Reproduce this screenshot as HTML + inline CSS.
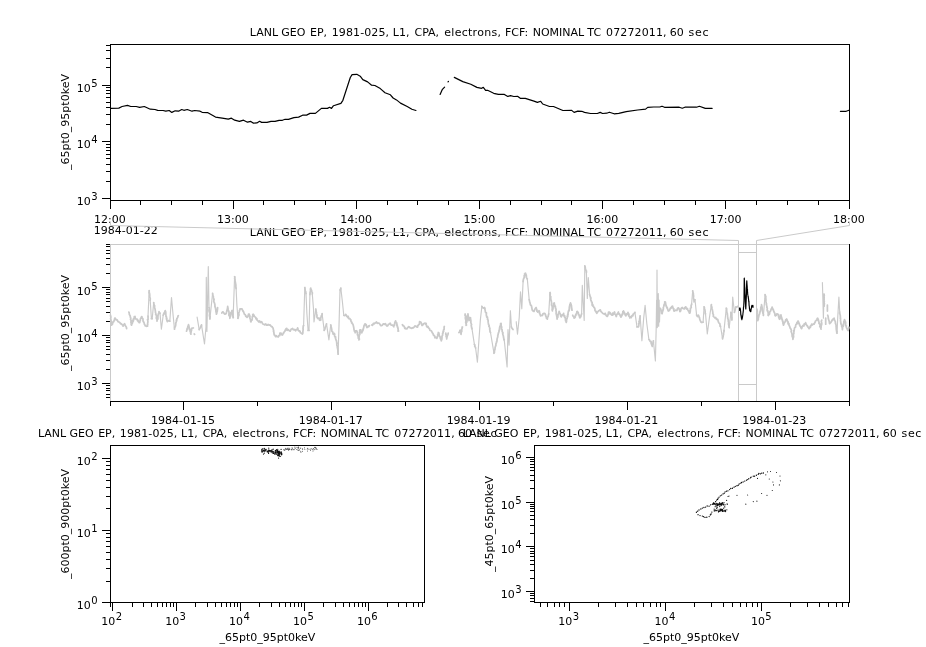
<!DOCTYPE html><html><head><meta charset="utf-8"><title>LANL GEO EP</title><style>html,body{margin:0;padding:0;background:#fff;overflow:hidden}svg{display:block}</style></head><body>
<svg width="926" height="647" viewBox="0 0 926 647">
<rect width="926" height="647" fill="#fff"/>
<g shape-rendering="crispEdges">
<rect x="110" y="44" width="740" height="1" fill="#000"/>
<rect x="110" y="200" width="740" height="1" fill="#000"/>
<rect x="110" y="44" width="1" height="157" fill="#000"/>
<rect x="849" y="44" width="1" height="157" fill="#000"/>
<rect x="102" y="198" width="8" height="1" fill="#000"/>
<rect x="106" y="181" width="4" height="1" fill="#000"/>
<rect x="106" y="171" width="4" height="1" fill="#000"/>
<rect x="106" y="164" width="4" height="1" fill="#000"/>
<rect x="106" y="158" width="4" height="1" fill="#000"/>
<rect x="106" y="154" width="4" height="1" fill="#000"/>
<rect x="106" y="150" width="4" height="1" fill="#000"/>
<rect x="106" y="147" width="4" height="1" fill="#000"/>
<rect x="106" y="144" width="4" height="1" fill="#000"/>
<rect x="102" y="141" width="8" height="1" fill="#000"/>
<rect x="106" y="124" width="4" height="1" fill="#000"/>
<rect x="106" y="114" width="4" height="1" fill="#000"/>
<rect x="106" y="107" width="4" height="1" fill="#000"/>
<rect x="106" y="102" width="4" height="1" fill="#000"/>
<rect x="106" y="97" width="4" height="1" fill="#000"/>
<rect x="106" y="93" width="4" height="1" fill="#000"/>
<rect x="106" y="90" width="4" height="1" fill="#000"/>
<rect x="106" y="87" width="4" height="1" fill="#000"/>
<rect x="102" y="85" width="8" height="1" fill="#000"/>
<rect x="106" y="67" width="4" height="1" fill="#000"/>
<rect x="106" y="58" width="4" height="1" fill="#000"/>
<rect x="106" y="50" width="4" height="1" fill="#000"/>
<rect x="106" y="45" width="4" height="1" fill="#000"/>
<rect x="110" y="201" width="1" height="8" fill="#000"/>
<rect x="140" y="201" width="1" height="4" fill="#000"/>
<rect x="171" y="201" width="1" height="4" fill="#000"/>
<rect x="202" y="201" width="1" height="4" fill="#000"/>
<rect x="233" y="201" width="1" height="8" fill="#000"/>
<rect x="263" y="201" width="1" height="4" fill="#000"/>
<rect x="294" y="201" width="1" height="4" fill="#000"/>
<rect x="325" y="201" width="1" height="4" fill="#000"/>
<rect x="356" y="201" width="1" height="8" fill="#000"/>
<rect x="387" y="201" width="1" height="4" fill="#000"/>
<rect x="417" y="201" width="1" height="4" fill="#000"/>
<rect x="448" y="201" width="1" height="4" fill="#000"/>
<rect x="479" y="201" width="1" height="8" fill="#000"/>
<rect x="510" y="201" width="1" height="4" fill="#000"/>
<rect x="541" y="201" width="1" height="4" fill="#000"/>
<rect x="571" y="201" width="1" height="4" fill="#000"/>
<rect x="602" y="201" width="1" height="8" fill="#000"/>
<rect x="633" y="201" width="1" height="4" fill="#000"/>
<rect x="664" y="201" width="1" height="4" fill="#000"/>
<rect x="695" y="201" width="1" height="4" fill="#000"/>
<rect x="725" y="201" width="1" height="8" fill="#000"/>
<rect x="756" y="201" width="1" height="4" fill="#000"/>
<rect x="787" y="201" width="1" height="4" fill="#000"/>
<rect x="818" y="201" width="1" height="4" fill="#000"/>
<rect x="849" y="201" width="1" height="8" fill="#000"/>
</g>
<path d="M110.7,108.4 L118.8,108.1 L122.1,106.5 L127.5,105.4 L130.8,106.5 L136.2,106.5 L139.6,107.3 L144.3,106.5 L150.3,109.2 L155.0,109.5 L157.7,110.4 L163.1,110.5 L165.8,111.2 L169.2,110.5 L171.8,112.4 L175.2,110.8 L178.6,111.2 L181.7,109.5 L183.9,110.3 L187.3,109.5 L192.0,111.2 L194.7,110.5 L200.1,111.2 L202.1,112.3 L207.5,112.6 L215.5,117.1 L222.2,118.1 L228.3,119.1 L231.4,118.2 L234.7,120.2 L239.4,121.4 L243.5,120.2 L247.5,122.2 L250.8,121.4 L253.5,123.2 L256.9,122.9 L259.6,121.3 L261.6,122.4 L267.0,122.4 L271.0,121.4 L275.0,121.4 L279.1,120.3 L282.4,120.3 L285.1,119.3 L288.5,119.3 L293.9,117.7 L298.6,117.1 L302.6,115.2 L306.6,115.1 L310.0,113.4 L315.4,113.4 L321.4,108.4 L327.5,108.4 L329.5,107.3 L331.5,108.4 L333.5,105.7 L340.9,103.4 L342.9,100.3 L350.3,77.5 L352.1,74.6 L356.8,74.3 L360.2,76.2 L362.8,79.6 L367.6,81.9 L371.6,85.2 L374.9,85.5 L380.3,88.6 L385.0,92.7 L390.4,94.8 L393.1,98.0 L396.5,99.9 L400.5,103.1 L407.2,106.5 L411.9,109.3 L415.9,110.5" fill="none" stroke="#000" stroke-width="1.2" stroke-linejoin="round" stroke-linecap="round" />
<path d="M440.1,94.4 L442.2,89.7 L444.6,87.2" fill="none" stroke="#000" stroke-width="1.2" stroke-linejoin="round" stroke-linecap="round" />
<path d="M448.0,81.9 L448.4,81.5" fill="none" stroke="#000" stroke-width="1.2" stroke-linejoin="round" stroke-linecap="round" />
<path d="M454.3,77.4 L462.8,81.6 L470.8,84.3 L476.9,87.4 L481.6,88.3 L483.3,87.4 L485.6,90.3 L487.6,90.3 L493.7,93.3 L498.4,94.4 L504.4,94.4 L507.8,96.4 L510.5,95.7 L513.8,96.5 L517.9,96.4 L520.6,98.4 L525.3,98.4 L534.0,101.1 L537.4,102.4 L540.7,101.3 L542.7,104.0 L549.5,106.5 L553.5,106.5 L562.9,110.5 L571.7,110.4 L574.1,112.4 L577.8,111.1 L581.8,111.3 L584.5,112.4 L590.5,113.5 L597.3,113.5 L600.2,112.4 L602.6,113.5 L606.7,113.2 L609.4,112.2 L614.1,113.8 L618.8,113.4 L626.2,111.7 L637.6,110.0 L645.6,109.1 L647.7,107.4 L653.7,107.0 L659.8,107.0 L662.0,106.2 L664.5,107.3 L679.2,107.2 L682.3,108.2 L684.9,107.2 L696.5,107.2 L699.4,106.3 L705.3,108.4 L712.1,108.4" fill="none" stroke="#000" stroke-width="1.2" stroke-linejoin="round" stroke-linecap="round" />
<path d="M840.4,111.3 L846.2,111.3 L849.0,110.2" fill="none" stroke="#000" stroke-width="1.2" stroke-linejoin="round" stroke-linecap="round" />
<text y="35.9" font-family="DejaVu Sans, Liberation Sans, sans-serif" font-size="11px" fill="#000" xml:space="preserve"><tspan x="249.77">LANL</tspan> <tspan x="281.33">GEO</tspan> <tspan x="310.02">EP,</tspan> <tspan x="331.69" letter-spacing="0.12">1981-025,</tspan> <tspan x="392.87">L1,</tspan> <tspan x="414.48">CPA,</tspan> <tspan x="444.29" letter-spacing="0.27">electrons,</tspan> <tspan x="504.92">FCF:</tspan> <tspan x="532.67">NOMINAL</tspan> <tspan x="587.33">TC</tspan> <tspan x="606.12" letter-spacing="0.12">07272011,</tspan> <tspan x="669.83">60</tspan> <tspan x="688.51" letter-spacing="0.7">sec</tspan></text>
<text x="109.8" y="222.5" font-family="DejaVu Sans, Liberation Sans, sans-serif" font-size="11px" text-anchor="middle" fill="#000" >12:00</text>
<text x="232.96666666666667" y="222.5" font-family="DejaVu Sans, Liberation Sans, sans-serif" font-size="11px" text-anchor="middle" fill="#000" >13:00</text>
<text x="356.1333333333333" y="222.5" font-family="DejaVu Sans, Liberation Sans, sans-serif" font-size="11px" text-anchor="middle" fill="#000" >14:00</text>
<text x="479.3" y="222.5" font-family="DejaVu Sans, Liberation Sans, sans-serif" font-size="11px" text-anchor="middle" fill="#000" >15:00</text>
<text x="602.4666666666667" y="222.5" font-family="DejaVu Sans, Liberation Sans, sans-serif" font-size="11px" text-anchor="middle" fill="#000" >16:00</text>
<text x="725.6333333333333" y="222.5" font-family="DejaVu Sans, Liberation Sans, sans-serif" font-size="11px" text-anchor="middle" fill="#000" >17:00</text>
<text x="848.8" y="222.5" font-family="DejaVu Sans, Liberation Sans, sans-serif" font-size="11px" text-anchor="middle" fill="#000" >18:00</text>
<text x="93.8" y="233.6" font-family="DejaVu Sans, Liberation Sans, sans-serif" font-size="11px" text-anchor="start" fill="#000" >1984-01-22</text>
<text y="91.5" font-family="DejaVu Sans, Liberation Sans, sans-serif" fill="#000"><tspan x="76.85" font-size="11px">10</tspan><tspan x="91.24" dy="-4.6" font-size="10px">5</tspan></text>
<text y="147.5" font-family="DejaVu Sans, Liberation Sans, sans-serif" fill="#000"><tspan x="76.85" font-size="11px">10</tspan><tspan x="91.24" dy="-4.6" font-size="10px">4</tspan></text>
<text y="204.5" font-family="DejaVu Sans, Liberation Sans, sans-serif" fill="#000"><tspan x="76.85" font-size="11px">10</tspan><tspan x="91.24" dy="-4.6" font-size="10px">3</tspan></text>
<text transform="translate(69,122) rotate(-90)" font-family="DejaVu Sans, Liberation Sans, sans-serif" font-size="11px" text-anchor="middle" fill="#000">_65pt0_95pt0keV</text>
<g shape-rendering="crispEdges">
<rect x="110" y="244" width="740" height="1" fill="#cacaca"/>
<rect x="110" y="244" width="1" height="158" fill="#cacaca"/>
<rect x="110" y="401" width="740" height="1" fill="#000"/>
<rect x="849" y="244" width="1" height="158" fill="#000"/>
<rect x="106" y="397" width="4" height="1" fill="#000"/>
<rect x="106" y="394" width="4" height="1" fill="#000"/>
<rect x="106" y="390" width="4" height="1" fill="#000"/>
<rect x="106" y="388" width="4" height="1" fill="#000"/>
<rect x="106" y="385" width="4" height="1" fill="#000"/>
<rect x="102" y="383" width="8" height="1" fill="#000"/>
<rect x="106" y="369" width="4" height="1" fill="#000"/>
<rect x="106" y="360" width="4" height="1" fill="#000"/>
<rect x="106" y="354" width="4" height="1" fill="#000"/>
<rect x="106" y="349" width="4" height="1" fill="#000"/>
<rect x="106" y="346" width="4" height="1" fill="#000"/>
<rect x="106" y="342" width="4" height="1" fill="#000"/>
<rect x="106" y="340" width="4" height="1" fill="#000"/>
<rect x="106" y="337" width="4" height="1" fill="#000"/>
<rect x="102" y="335" width="8" height="1" fill="#000"/>
<rect x="106" y="321" width="4" height="1" fill="#000"/>
<rect x="106" y="312" width="4" height="1" fill="#000"/>
<rect x="106" y="306" width="4" height="1" fill="#000"/>
<rect x="106" y="301" width="4" height="1" fill="#000"/>
<rect x="106" y="298" width="4" height="1" fill="#000"/>
<rect x="106" y="294" width="4" height="1" fill="#000"/>
<rect x="106" y="292" width="4" height="1" fill="#000"/>
<rect x="106" y="289" width="4" height="1" fill="#000"/>
<rect x="102" y="287" width="8" height="1" fill="#000"/>
<rect x="106" y="273" width="4" height="1" fill="#000"/>
<rect x="106" y="264" width="4" height="1" fill="#000"/>
<rect x="106" y="258" width="4" height="1" fill="#000"/>
<rect x="106" y="253" width="4" height="1" fill="#000"/>
<rect x="106" y="250" width="4" height="1" fill="#000"/>
<rect x="106" y="246" width="4" height="1" fill="#000"/>
<rect x="106" y="244" width="4" height="1" fill="#000"/>
<rect x="110" y="402" width="1" height="4" fill="#000"/>
<rect x="183" y="402" width="1" height="8" fill="#000"/>
<rect x="257" y="402" width="1" height="4" fill="#000"/>
<rect x="331" y="402" width="1" height="8" fill="#000"/>
<rect x="405" y="402" width="1" height="4" fill="#000"/>
<rect x="479" y="402" width="1" height="8" fill="#000"/>
<rect x="553" y="402" width="1" height="4" fill="#000"/>
<rect x="627" y="402" width="1" height="8" fill="#000"/>
<rect x="701" y="402" width="1" height="4" fill="#000"/>
<rect x="775" y="402" width="1" height="8" fill="#000"/>
<rect x="849" y="402" width="1" height="4" fill="#000"/>
</g>
<path d="M110.5,315.2L110.6,316.2L110.9,316.8L110.8,317.9L110.6,318.6L111.0,320.0L110.8,319.8L110.8,321.7L111.3,321.0L111.5,323.6L111.4,323.8L111.2,323.4L111.5,325.2L112.5,324.2L112.8,322.5L112.9,322.1L113.2,321.8L113.7,321.8L114.1,320.6L114.4,319.9L114.7,318.3L115.0,318.0L115.9,319.7L116.4,319.9L116.7,319.7L117.3,320.1L118.0,321.7L118.9,322.0L119.8,322.5L120.6,323.9L121.1,323.7L121.3,323.7L122.3,324.9L122.9,325.4L123.1,326.2L123.3,325.6L124.3,324.1L124.6,323.7L124.7,324.2L125.5,325.9L125.4,325.7L125.7,326.2L126.4,327.2L126.6,328.7M128.9,312.1L129.2,312.8L129.3,314.2L129.5,314.8L129.8,315.2L130.3,316.2L130.2,316.6L130.8,318.4L130.5,319.4L130.6,319.3L131.1,320.6L130.8,322.1L131.0,321.4L131.4,322.4L131.2,322.7L131.2,324.5L131.6,325.2L131.7,324.6L132.0,323.6L132.6,322.8L132.6,322.8L132.6,320.6L133.3,321.2L133.2,319.2L133.7,319.9L133.6,319.1L134.3,317.7L134.3,316.7L135.0,316.5L135.4,318.9L136.2,319.0L137.1,319.2L137.4,320.5L138.0,320.2L138.2,321.7L138.6,321.5L139.3,322.7L139.7,322.7L140.0,320.8L140.5,319.9L140.3,319.2L140.9,318.1L141.1,317.9L141.6,316.7L141.9,316.7L142.1,318.2L142.8,318.5L142.9,319.1L142.9,318.8L143.1,321.3L143.8,322.1L143.7,322.2L144.2,323.2L144.4,324.4L144.6,324.3L145.3,325.8L145.4,325.7L146.5,326.3L147.4,326.0L147.6,326.0L147.4,324.7L147.8,324.3L147.6,323.3L147.9,322.1L147.8,320.9L147.8,320.5L147.5,319.7L148.1,319.4L148.0,317.6L148.1,317.2L148.0,316.2M149.2,290.5L149.2,292.0L149.1,292.6L149.2,293.1L149.5,293.2L149.7,294.5L149.8,296.1L149.6,295.1L149.7,297.3L149.8,297.0L150.3,298.8L150.1,300.1L150.2,300.1M151.4,318.7L152.2,318.7M153.7,302.6L153.8,303.8L153.9,304.1L154.4,305.9L154.6,305.7L154.6,306.4L154.5,307.6L155.1,309.1L155.2,310.2L155.2,310.1L155.2,310.2L155.4,311.2L155.4,312.3L155.8,313.3L155.7,314.7L156.3,314.8L155.8,314.7L156.5,315.5L156.5,317.4L156.4,318.6L156.3,318.1L156.7,318.7L157.1,319.9L157.0,321.2L157.0,319.5L157.4,319.5L157.6,319.1L157.9,318.9L157.9,316.6L158.0,315.8L157.9,315.5L158.5,314.2L158.4,313.7L158.8,313.2L158.9,312.9L159.0,311.6L159.4,312.9L160.0,313.1M163.2,315.2L163.8,313.6L164.1,314.1L164.0,312.8L164.6,313.0L164.8,311.5L165.2,310.6L165.6,312.0L165.8,312.1L165.7,312.4L165.9,314.4L166.0,315.0L165.9,316.2L166.5,317.1L166.4,317.5L166.4,318.6L166.9,318.2L166.6,319.2L167.0,320.7L167.1,320.0L167.3,321.7L168.3,320.7L169.1,320.7L169.8,321.2M174.5,329.2L174.6,329.0L174.6,326.9L175.0,327.2L175.4,326.3L175.7,325.1L175.8,323.5L175.6,323.6L175.8,323.2L176.2,322.0L176.5,321.2L176.3,320.1L176.8,320.3L176.8,318.7L177.0,318.7L177.8,317.2L178.0,315.9L178.3,315.7M186.5,331.2L186.8,330.4L187.1,328.6L187.5,328.8L187.4,328.6L187.8,327.1L188.1,325.5L188.3,325.3L188.5,324.7L189.0,326.3L188.8,326.2L188.9,326.9L189.5,328.7L189.5,328.3L189.5,329.7L190.2,329.5L190.3,330.1L190.1,331.3L190.6,332.3L190.6,333.6L190.9,334.2L190.8,333.8L191.0,332.5L191.2,331.0L191.5,330.6L191.5,329.7L191.8,328.4L191.9,328.2L193.4,328.0M194.3,334.0L194.6,334.4M199.2,329.6L199.4,329.1L200.0,328.1L200.6,327.5L200.9,325.9L201.3,326.3L201.5,324.9M209.0,307.6L209.3,308.0L209.0,310.1L209.0,311.0L209.5,310.1L209.2,312.1L209.2,311.6L209.6,313.1L209.7,313.3L209.5,315.2L209.4,315.1L209.8,317.3L210.1,316.5L209.8,318.6L209.9,318.9M212.6,293.3L212.8,294.5L212.7,294.1L212.8,294.8L213.2,296.6L213.4,296.7L213.3,297.6L213.9,300.0L214.1,299.1L213.7,301.6L214.1,302.1L214.2,302.3L214.5,303.0L214.6,304.0L214.8,303.9L215.0,306.4L214.9,306.5L215.3,307.2L215.2,307.6L215.5,308.1L215.9,310.6L215.9,311.5L216.0,311.5L216.2,312.5L216.5,314.0L216.4,314.2L216.4,314.2L216.8,313.1L217.0,311.5L217.2,311.7L217.3,310.6L217.5,309.1L217.6,307.6L217.6,307.6M221.8,313.0L222.3,312.3L223.0,311.8L223.3,312.3L224.3,313.6L224.8,314.2L226.2,313.6L226.2,313.7L226.6,311.7L226.8,311.3L226.9,310.2L227.3,309.9L227.3,309.3L227.7,307.0L227.6,307.7L227.7,306.4L227.7,307.0L227.7,307.4L228.0,308.0L228.1,310.4L228.4,310.4L228.8,311.3L229.0,312.2L229.0,311.9L229.0,314.1L228.8,315.2L229.0,315.1L229.2,315.9L229.6,315.8L229.9,317.3L229.8,318.3L230.0,317.6L230.2,316.2L230.6,315.9L230.6,315.3L230.8,313.1L231.0,312.3L231.2,312.8L231.6,312.3L231.9,310.6L232.2,310.5L232.5,313.1L232.0,313.8L232.4,313.7L232.9,314.0L232.7,316.2L233.0,316.1L233.3,317.5L233.1,317.7M234.6,276.7L234.8,276.8L234.9,278.3L234.7,278.4L235.0,279.3L235.1,281.3L235.2,281.3L235.4,282.5L235.6,283.6L235.9,285.3L235.8,284.7L235.5,286.8L236.1,287.1L235.9,287.3L236.1,288.6M237.9,318.3L238.2,317.6L238.3,317.0L238.6,315.3L238.4,316.1L239.0,315.1L238.7,312.7L239.0,312.6L239.4,311.2L239.5,310.3L239.4,310.7L239.9,309.9L240.0,308.8L240.9,308.8L242.0,308.8L242.2,309.3L242.8,311.0L242.8,310.4L243.6,312.1L243.9,312.1L244.0,312.9L244.4,314.2L245.2,314.5L245.7,316.3L246.1,316.0L246.9,317.4L247.4,317.1L247.8,316.1L248.1,316.4L248.5,314.1L249.2,314.2L249.4,315.0L249.7,315.5L250.0,315.9L249.8,317.9L249.9,318.1L250.5,319.7L250.5,319.5L250.7,321.5L251.0,321.9L251.2,320.3L251.6,320.3L252.0,320.2L252.2,318.4L252.3,317.2L252.3,316.6L252.9,316.7L252.7,314.8L253.1,314.2L253.5,314.6L254.1,315.4L254.4,316.4L255.3,317.1L255.8,317.8L256.0,318.9L256.9,318.7L256.9,319.8L257.7,320.6L258.5,321.5L258.7,321.9L259.7,321.0L260.3,322.5L261.1,321.9L261.6,321.7L262.7,323.9L263.0,324.0L264.0,324.3L264.6,324.9L265.8,324.0L266.4,325.1L267.4,325.2L268.2,324.4L269.4,325.2L270.0,324.9L270.6,325.6L271.3,326.5L272.0,326.5L272.6,327.6L273.0,327.9L273.3,329.3L273.5,330.3L273.7,330.5L273.5,331.5L273.8,331.7L273.8,331.9L274.1,334.4L274.0,333.5L274.2,335.0L274.8,335.2L275.7,336.7L276.4,335.7L277.2,336.7L278.3,336.8L278.9,335.4L279.0,335.3L279.8,335.5L279.9,333.1L280.7,333.2L281.1,333.2L281.7,334.8L282.5,335.0L283.0,333.7L283.1,333.1L283.5,333.3L284.0,332.2L284.7,331.3L284.8,331.4L285.5,329.6L285.7,330.1L286.1,328.5L286.8,328.4L287.2,330.3L288.4,329.6L288.9,330.4L289.6,330.8L290.2,331.2L291.2,329.1L291.6,329.0L292.6,328.5L293.3,329.7L294.2,329.9L294.6,329.5L295.6,330.8L296.0,329.6L296.8,329.4L297.2,329.6L297.6,327.9L297.9,328.7L298.2,329.8L298.5,330.6L299.4,331.3L299.3,330.9L300.1,331.3L300.4,332.8L301.4,333.3L302.4,334.0L302.8,333.3L302.9,331.9L302.9,331.3L303.1,329.8L303.2,329.2L303.1,329.0L303.0,328.8L303.2,326.9L303.2,326.1L303.6,325.6M304.8,287.5L305.0,288.8L305.1,289.6L305.1,289.9L305.5,291.9L305.9,292.1L305.5,292.4L306.0,293.5M308.1,330.4L309.0,330.4M309.9,294.7L310.1,293.3L310.1,293.0L309.9,293.2L310.5,290.8L310.5,290.2L310.4,289.8L310.5,288.6L310.7,288.1L310.9,289.3L311.0,289.2L311.5,290.3L311.9,291.7L312.0,292.0L312.3,292.4L312.3,294.1M315.8,309.0L315.7,309.0L316.1,311.1L316.0,311.3L316.5,312.5L316.2,312.6L316.3,313.2L316.6,314.0L317.0,315.5L316.9,316.8L317.0,317.3L317.8,318.5L318.2,318.2L318.9,318.1L319.5,320.1L320.2,320.3L320.7,320.1L320.8,318.9L320.6,317.5L321.1,317.3L321.2,315.9L321.6,315.9L322.1,314.7L322.1,313.7M324.2,330.4L324.3,330.1L325.0,328.8L325.0,327.9L325.1,327.5L325.9,326.3L326.1,326.1L326.0,325.5L326.5,323.8M330.7,325.0L331.0,325.2L330.9,326.1L331.4,327.8L331.5,329.1L331.7,329.0L331.8,330.9L332.0,331.5L332.5,331.7L332.7,331.9L333.1,334.2L333.1,334.0L334.3,333.4L334.7,334.4L334.5,335.7L334.8,336.6L335.0,336.8L335.6,336.8L335.6,337.4L335.5,338.4L336.3,340.8L336.4,340.3L336.6,342.0L336.7,342.3L336.7,343.3L337.1,343.0L336.8,344.8L336.9,345.5L337.2,345.9L337.3,346.9L337.4,347.9L337.6,348.2L337.7,349.2L338.0,351.0L337.8,351.5L338.0,352.9L338.2,353.9L338.1,354.2M340.0,289.9L340.4,290.0L340.8,288.1M343.8,315.5L344.9,315.6L345.6,314.3L346.1,314.8L346.7,316.3L347.2,316.2L347.7,317.5L348.2,316.4L348.9,318.7L349.5,318.7L350.0,318.7L350.4,319.7L350.8,319.6L350.9,321.1L351.5,321.7L351.6,323.0L352.2,322.9L352.5,323.9L352.8,324.0L353.3,325.6L353.7,327.3L353.8,327.9L353.9,328.6L353.9,329.3L354.3,330.4L354.3,331.0L354.5,331.3L355.2,331.0L355.1,332.8L355.5,331.8L356.2,330.7L356.9,331.0L357.3,332.4L357.2,332.3L357.5,332.5L357.4,335.0L357.7,335.0L358.3,336.8L358.2,336.1L358.3,338.3L358.9,337.7L359.0,338.8L359.0,339.9L359.1,338.4L359.4,339.2L359.0,337.6L359.1,337.3L359.1,334.9L359.6,334.5L359.8,334.7L359.7,332.4L359.8,333.2L359.7,330.6L359.7,330.3L359.9,329.8L360.5,329.9L360.6,330.8L361.3,332.6L361.7,332.8L361.9,332.3L362.5,331.3L362.4,329.9L363.2,329.9L363.1,329.0L363.3,328.9L363.8,327.1L364.1,325.3L364.5,325.0L364.6,325.2L365.0,323.8L365.3,324.1L366.2,324.7L366.4,326.1L366.9,327.5L367.6,327.4L368.5,325.9L368.8,326.7L369.4,325.6M371.8,325.0L372.5,325.4L373.4,323.4L374.2,323.8L374.8,323.3L375.9,322.5L376.5,322.0L377.2,323.3L378.0,323.2L378.9,323.1L379.5,323.7L380.1,324.5L380.7,325.6L381.4,325.7L382.4,325.3L382.8,324.2L383.7,323.8L384.4,324.3L385.4,323.6L386.3,325.3L387.1,326.0L387.9,325.6L388.3,324.3L388.8,324.4L389.6,323.7L390.2,323.2L390.7,324.4L391.1,325.2L392.0,325.1L392.8,325.1L393.0,325.8L393.8,326.8L393.8,325.6L394.4,325.2L394.4,324.4L394.6,324.1L394.9,322.1L395.1,322.1L395.6,320.9L396.0,322.3L395.8,322.3L396.2,322.7L396.8,323.1L396.7,325.3L397.3,324.9L397.2,326.8L397.2,326.6L397.9,327.2L397.8,328.3L398.1,328.6L398.1,331.2L398.6,331.0M402.4,324.7L403.2,325.9L403.4,325.6L404.2,326.3L404.8,328.4L405.3,327.9L406.0,328.9L407.2,328.7L407.5,327.8L408.7,326.7L409.5,327.1L410.2,327.9L411.3,328.1L411.9,328.3L412.9,327.6L413.3,327.8L414.1,327.1L414.9,325.9L415.6,326.0L416.5,326.8L417.6,327.1L417.7,325.8L418.1,325.5L418.5,324.7L419.3,324.4L419.5,322.7L419.6,321.7L420.0,321.8L420.6,322.2L420.9,322.2L421.4,323.4L422.0,325.4L422.6,325.3L423.3,324.3L423.7,323.5L424.7,323.3L425.0,323.0L425.6,324.2L426.2,323.5L426.3,324.9L426.7,326.6L427.3,327.1L427.9,326.4L428.3,327.4L428.6,328.0L429.4,328.5L429.8,330.1L430.3,330.5L431.0,330.6L431.7,331.4L432.3,332.8L432.7,333.1L432.9,333.3L433.4,335.1L433.8,335.2L434.5,335.7L434.6,336.7L435.1,337.8L435.8,337.2L436.9,338.4L436.8,337.8L437.3,337.3L437.8,335.5L437.8,335.9L437.7,334.6L438.2,334.3L438.3,332.5L438.8,332.7L438.9,333.2L439.1,334.5L439.2,335.3L439.6,336.3L439.9,336.3L440.2,337.7L440.4,338.9L440.7,338.5L441.0,339.9L441.4,340.8L441.4,340.2L441.8,339.3L442.0,337.5L442.0,337.4L441.9,336.6L442.1,336.0L442.6,335.2L442.6,334.0L442.6,333.3L443.2,333.0L443.0,332.4L443.1,331.2L443.6,331.4L443.6,329.8L444.1,329.4L444.1,328.3L444.1,327.1L444.3,326.5M445.8,333.1L445.8,334.6L446.3,334.5L446.4,334.7L446.1,336.5L446.3,337.0L446.9,337.5L446.7,339.0L446.7,337.6L447.2,336.8L447.0,336.6L447.5,335.1L447.8,335.1L448.0,334.2L448.2,333.1M458.9,332.5L459.3,332.4L460.0,330.6L460.1,330.1L460.2,331.7L460.3,332.2L460.8,333.0L461.1,334.1L461.0,334.3L461.0,333.7L461.3,332.8L461.4,331.5L461.8,331.2L461.7,329.8L461.9,328.9L462.2,328.0L462.1,327.0L462.5,327.1M465.2,314.0L465.0,315.2L465.1,315.5L465.6,316.4L465.3,318.0L465.7,317.1L465.4,318.9L465.8,319.4L465.8,320.0L465.9,320.9L465.7,322.6L466.1,323.5L466.0,323.5L466.2,324.7L466.1,325.3L466.4,325.1L466.1,323.4L466.6,322.3L466.4,321.1L466.8,322.1L467.2,319.7L467.1,319.5L467.2,318.6L467.5,319.0L467.1,317.7L467.3,315.5L467.5,316.1L468.1,314.0L467.9,314.0L467.9,313.9L468.2,315.6L468.2,316.1L468.6,318.0L468.5,317.9L468.8,319.5L469.2,319.6L469.0,320.6L469.4,319.9L469.8,318.4L469.7,317.6L470.2,317.6L470.6,317.9L470.5,318.5L470.5,319.1L470.8,320.1L470.9,321.2L470.8,322.4L471.0,322.8L471.0,323.2L471.6,324.5L471.2,325.0L471.6,327.5L471.6,328.0L471.9,327.9L472.0,328.9M474.4,344.4L474.9,345.1L474.7,346.3L475.4,347.3L475.6,348.0M481.9,306.3L482.6,307.6L483.9,308.1L484.5,307.5L484.7,309.0L485.0,308.4L484.8,309.2L485.1,309.8L485.4,312.0L485.6,312.3L485.6,312.5L486.4,312.9L486.3,315.3L486.7,315.9L486.6,316.8L487.1,317.6L487.4,317.0L487.6,318.4L487.5,319.4L487.8,319.7L488.1,320.1L488.1,321.3L488.2,322.4L488.5,324.1L488.5,324.6L488.7,324.7L489.2,325.6L488.9,326.4L489.5,327.0L489.7,328.5L489.9,328.6L489.7,329.3L490.0,330.7L490.0,331.7L490.5,332.5M494.0,353.3L494.1,352.1L494.4,352.6L494.4,351.6L494.6,350.6L494.6,350.2L495.0,349.4L495.1,347.5L495.5,346.2L495.5,346.4L496.0,344.9L495.8,344.1L496.4,342.9L496.4,342.6L496.6,341.4L496.7,342.0L497.0,340.7L497.0,339.6L497.2,338.9L497.1,338.7L497.7,337.1L497.8,336.2L497.8,335.0L498.1,334.9L498.3,333.0L498.5,333.1L498.7,332.5L499.1,330.9L499.0,331.7L499.3,329.6L499.5,330.1L499.5,329.1L499.5,328.5L499.9,326.2L500.3,326.2L500.5,325.8L500.6,324.3L500.6,323.5L501.1,323.4L501.2,325.5L501.0,326.5L501.3,326.8L501.7,326.9L501.5,328.6L501.6,329.2L502.2,329.9L502.1,331.3L502.6,332.1L502.6,333.2L502.9,332.5L502.9,333.2L502.8,334.5L503.5,336.2L503.3,335.7L503.6,337.9L503.9,338.8L503.8,339.8L504.2,339.6M511.4,326.9L511.8,328.0L512.7,329.1L513.0,329.5M523.1,281.5L523.1,281.0L523.5,278.8L523.7,278.6L524.1,277.7L524.3,277.6L524.2,275.7L524.8,275.5L524.6,273.9L525.3,274.1L525.3,273.0L525.5,273.2L526.2,275.1L526.3,275.2L526.3,276.2L526.5,277.5L527.0,278.7L527.3,278.9M529.2,299.7L529.4,300.4L529.7,302.2L529.9,302.5L530.1,303.1L530.3,304.4L530.6,305.2L531.1,305.2L531.5,305.9L531.6,307.1L531.7,306.8L531.9,308.1L532.2,310.2L532.5,310.1L533.1,311.1L534.0,311.4L534.5,310.1L534.8,309.1L535.5,308.6L535.6,308.0L536.1,307.5L536.6,309.1L536.8,309.4L536.8,311.0L537.1,310.8L537.7,312.0L538.3,311.8L539.0,310.7L539.4,311.3L539.7,313.3L539.5,313.6L540.0,313.9L540.2,314.7L540.5,315.9L541.4,315.4L542.4,315.5L542.9,313.9L544.1,313.4L544.8,313.3L545.4,314.4L545.7,316.0L545.7,315.7L546.2,316.9L546.5,318.4L546.9,318.0L547.4,319.1L547.4,318.0L548.0,316.5L547.9,316.8L548.3,316.1L548.3,315.4L548.7,313.9M550.0,292.5L550.3,293.9L550.0,294.1L550.1,295.8L550.8,296.7L550.4,296.5L550.8,297.7L550.7,299.0L550.9,299.3L550.9,300.3L551.3,301.0L551.2,301.0L551.5,302.2L551.7,302.9L551.6,303.3L551.5,304.9L551.8,305.8L552.1,305.9L552.2,306.8L552.3,308.3L552.1,309.3L552.4,310.8L552.3,310.7L552.4,308.9L552.5,309.8L553.0,308.8L552.9,307.6L553.0,306.0L553.4,307.0L553.8,305.9L553.6,304.3L553.8,303.2L554.3,302.9L554.3,304.6L554.6,304.6L555.0,306.2L555.4,306.4L555.4,307.9L555.5,307.6L555.8,308.8L556.1,309.2L555.9,310.4L556.1,311.1L556.2,312.1L556.1,313.8L556.2,314.0L556.6,314.6L556.5,314.9L556.7,316.2L556.9,316.8L557.1,318.2L557.1,319.1L557.0,318.1L557.8,316.4L557.8,317.5L557.9,315.9L558.1,314.4L558.5,314.1L558.5,313.1L558.9,312.8L559.1,311.4L559.1,311.4L559.6,312.6L560.2,313.8L560.6,314.6L560.6,316.0L561.0,316.5L561.3,316.8L562.2,314.9L562.5,315.2L563.3,314.2L563.6,313.3L563.6,314.7L563.8,315.2L564.3,316.6L564.6,315.7L565.0,317.9L565.1,317.3L565.4,318.9L565.6,320.9L566.0,319.9L566.1,321.5L566.2,322.4L566.5,321.4L566.5,320.7L566.5,319.7L567.0,318.4L566.8,319.1L567.3,317.8L567.2,316.1L567.5,317.0L567.8,316.2L567.7,314.4L568.1,314.4L568.0,313.7L568.4,311.2L568.6,311.4L568.7,310.3L569.1,310.6L569.2,309.2L569.3,308.6L569.3,307.6L569.5,306.5L569.8,305.1L569.9,304.3L570.4,303.8L570.5,302.9L570.6,303.8L571.1,304.2L571.1,305.3L571.5,305.8L571.5,306.4L571.4,308.2L571.8,308.0L571.7,309.9L572.1,310.1M572.7,315.2L573.1,316.3L573.7,316.7L574.2,318.1L574.7,317.8L575.3,316.9L575.3,315.7L575.8,314.6L575.9,315.3L576.0,314.2L576.7,313.1L576.9,311.5L577.3,311.4L577.9,312.7L578.1,312.2L578.4,313.2L578.4,314.7L579.0,314.6L579.4,316.4L579.8,317.8L579.9,317.8L580.4,316.7L580.9,316.7L580.8,316.2L581.4,314.2L581.6,313.9M584.8,265.9L584.8,265.8L585.2,267.0L585.3,267.8L585.4,269.1L585.7,269.5L585.9,270.8L586.4,270.9L586.4,272.4M589.6,294.5L590.0,296.0L590.1,296.1L590.4,296.9L590.6,298.5L590.9,297.9L590.7,300.1L591.1,300.5L591.2,300.6L591.5,302.0L592.1,302.3L592.1,302.8L592.1,304.8L592.2,305.5L592.8,304.6L592.9,306.2L593.5,306.1L593.7,306.9L594.4,307.9L594.7,308.2L594.9,308.9L595.0,310.6L595.9,311.5L596.2,312.4L596.4,311.7L596.8,313.3L597.4,312.0L598.0,311.7L598.5,310.8L599.2,310.6L599.7,310.1L600.3,309.9L600.9,311.5L601.7,312.1L601.8,312.3L602.6,313.3L603.4,313.7L604.6,314.3L605.2,313.3L605.9,315.0L606.4,315.8L606.3,315.7L607.1,316.5L607.5,316.1L607.8,315.2L608.4,313.4L608.4,314.4L608.5,312.0L609.1,312.0L609.9,313.6L609.9,312.3L611.0,314.3L611.4,314.7L611.9,315.2L612.6,315.2L612.6,313.1L613.6,314.2L614.2,312.5L614.5,312.0L614.7,312.4L614.8,314.0L615.2,314.4L615.6,314.7L616.0,315.7L616.2,316.5L616.4,316.5L616.7,314.3L617.2,314.2L617.8,313.2L617.9,313.1L618.4,312.0L618.6,312.8L619.0,314.2L619.3,313.7L619.8,314.6L620.4,316.1L620.8,316.5L621.0,317.2L621.1,316.9L621.5,315.1L621.9,315.8L622.2,313.8L622.8,314.2L622.8,311.7L623.4,312.3L623.5,310.9L623.8,312.3L624.2,312.1L624.8,313.8L625.1,314.8L625.2,315.0L625.9,315.8L626.2,314.2L627.0,313.7L627.0,314.5L627.9,313.9L628.0,312.3L628.2,314.0L628.3,314.3L629.0,314.1L628.8,315.9L629.5,316.8L629.8,317.0L629.8,317.9L630.5,316.6L631.2,317.7L631.9,315.7L632.9,315.8L633.2,314.2L633.6,313.8L633.9,313.8L634.5,313.1L634.9,312.3M637.0,326.9L638.4,326.9L638.7,326.2L638.9,324.5L638.6,323.7L638.8,324.2L639.3,322.9L638.9,321.8L639.3,320.9L639.5,321.5L639.5,320.0L639.8,318.9L639.6,319.1L640.1,316.4L640.1,316.4L640.1,315.8M648.9,339.5L649.3,339.5L650.0,341.3L650.9,341.5L651.0,341.4L651.2,343.7L651.6,344.3L651.8,344.1L651.8,345.2L652.3,346.4L652.2,345.1L652.7,344.5L652.8,344.2L652.8,342.9L653.3,342.6L653.2,341.7L653.4,340.8M660.0,308.2L660.3,308.7L660.8,309.2L661.2,311.3L661.4,310.7L661.5,313.1L661.7,312.3L662.1,313.7L662.4,312.4L662.5,311.4L662.9,310.9L662.6,310.9L662.9,309.9L663.2,309.8L663.4,308.0L663.3,307.4L663.6,306.8L664.0,305.8L663.9,305.0L664.3,304.5L664.8,303.0L664.7,301.9L664.9,301.9L665.4,302.1L665.7,304.0L665.6,305.0L666.0,304.8L666.3,306.5L666.6,306.4L666.8,307.8L667.2,307.6L667.3,308.1L667.9,310.0L668.3,311.0L668.3,310.9L669.0,310.8L669.6,310.1L670.3,308.2L670.9,307.8L671.1,308.3L671.6,306.8L672.5,306.1L672.8,307.5L673.3,308.5L673.8,308.8L673.6,309.6L674.0,311.1L674.6,310.9L675.5,310.1L675.8,310.4L676.9,310.5L677.5,308.4L678.2,307.8L678.8,308.2L679.4,309.6L679.7,310.6L679.9,311.6L680.2,311.6L680.7,310.8L680.9,309.7L681.1,308.5L682.0,307.8L682.2,307.5L683.0,308.5L683.7,308.5L684.3,308.9L684.7,307.7L685.0,307.8L685.7,306.8L686.3,308.4L686.5,309.0L687.3,308.4L687.8,309.8L688.3,310.8L688.4,310.5L689.0,311.6L689.2,313.0L689.9,313.0L690.1,312.1L690.4,310.9L690.2,310.7L690.4,309.4L690.4,308.0L690.7,308.1L691.3,307.6L691.1,306.3L691.1,305.6L691.7,304.1L691.6,304.0M692.7,290.8L692.8,292.0L693.1,292.6L693.1,294.2L693.4,293.7L693.3,296.1L693.4,295.3L693.6,295.9L693.4,297.7L693.5,298.9L693.9,299.0L694.0,300.5L694.1,301.0L694.1,301.9L694.5,300.1L695.0,299.8M696.6,315.1L697.4,316.5L698.4,315.1L698.9,316.5L698.9,316.8L699.6,318.0L699.6,318.8L700.1,320.2L700.3,320.8L700.8,321.5L701.0,322.1L701.8,322.5L703.1,322.1M704.1,306.8L704.1,306.8L704.4,307.6L704.4,309.2L704.8,309.5L705.2,311.8L705.1,312.2L705.2,313.8L705.5,313.7M711.4,304.7L711.3,305.2L711.5,307.1L711.9,307.0L711.9,308.8L712.0,309.5L712.4,309.7L712.4,310.5L712.6,311.1L712.8,312.1L712.8,313.7L713.0,313.9L713.4,314.7L713.3,316.5L713.5,316.5L714.5,317.5L714.8,317.8L715.7,317.5L716.4,319.3L717.1,319.2L717.7,319.3L718.0,320.4L718.2,321.4L718.7,322.6L718.8,322.8L719.0,323.0L719.7,323.4L719.9,324.1L720.1,326.4L720.5,326.2M722.6,338.8L722.6,338.8L722.6,337.3L723.2,337.0L723.1,335.6L723.4,335.1L723.6,333.9L723.4,333.3L723.8,332.2L724.2,330.5L724.0,330.4M726.3,308.2L726.6,308.6L726.7,310.7L726.6,310.7L726.8,311.4L726.7,312.4L727.3,313.3L727.1,314.4L727.3,313.8L727.5,315.3L727.6,317.1L727.8,317.8L727.8,318.2L727.7,318.1L728.1,319.3L728.3,320.5L728.5,320.7L728.3,321.5L728.6,321.7L728.6,323.8L728.5,323.9L729.1,326.0L728.8,325.3L728.9,325.9L729.2,327.6M730.9,312.3L731.2,313.6L731.0,314.0L731.4,313.9L731.5,316.4L731.3,317.0L731.7,317.1L731.9,317.7L731.8,318.8L731.9,320.0M734.4,312.3L734.6,312.1L734.8,310.9L735.3,309.4L735.0,309.4L735.2,309.3L735.5,307.5L735.8,306.8L736.6,307.2L737.6,306.6L738.2,306.0M756.9,309.0L756.8,309.5L757.2,310.1L757.3,312.2L757.0,312.0L757.1,313.6L757.0,314.4L757.1,315.5L757.4,315.8L757.2,315.5L757.5,318.3L757.7,318.8L757.4,318.1L757.4,320.2L757.8,320.6L757.8,319.4L758.3,319.4L758.3,318.2L758.5,317.6L758.8,316.4L758.9,315.5L759.1,314.2L759.4,314.6L759.7,313.6L759.7,312.0L760.2,311.9L760.2,310.8L760.6,310.9L760.6,309.9L760.8,308.8L760.8,307.8L761.0,307.1L761.2,306.5L761.5,306.4L761.5,304.8L761.5,304.7L761.7,305.5L762.1,307.5L762.0,307.5L762.5,309.6L762.5,310.1L762.7,310.5L762.6,311.5L763.0,313.2L763.2,313.7L762.9,313.3L763.5,314.8L763.4,315.5M765.1,294.6L765.2,295.0L765.5,296.3L765.7,296.2L765.9,296.9L765.5,298.5L765.9,298.8L765.9,301.2L766.0,301.7L766.2,302.2L766.1,302.8L766.6,304.0L766.3,304.4L766.6,305.3L766.8,305.8L767.0,307.3L766.8,307.3L767.3,308.1L767.1,310.1L767.5,311.3L767.7,310.5L767.9,311.6L768.2,313.4L768.3,312.9L768.1,315.2L768.5,315.5L768.6,314.1L768.9,313.3L769.5,314.1L769.7,312.0L770.4,311.1L770.6,311.1L771.1,309.2L771.2,309.2L771.7,308.1L772.0,307.2L772.2,307.1L772.5,308.8L772.6,308.3L773.4,309.8L773.1,309.7L773.5,310.7L774.2,312.3L774.6,313.0L774.7,313.3L775.0,314.3L774.9,315.1L775.5,315.9L776.2,315.4L776.8,313.8L777.8,314.1L778.4,314.7L778.3,315.1L778.8,317.5L778.8,317.5L779.3,318.9L779.6,319.2L779.9,317.8L780.0,318.0L780.2,317.4L780.4,315.2L781.0,315.0L781.2,316.5L781.5,317.1L781.7,317.8L781.5,318.8L781.8,318.2L781.9,318.8L782.6,320.3L782.3,320.4L782.9,322.3L783.2,321.9L782.9,323.2L783.1,323.6L783.5,325.2L783.7,324.7L784.1,323.0L784.6,322.7L784.8,322.3L785.4,321.2L785.7,319.8L786.2,319.3L786.5,319.2L786.7,319.0L787.4,320.9L787.4,321.5L788.0,321.5L788.0,323.4L788.3,324.1L788.9,323.5L789.0,325.2L789.3,325.6L790.0,327.4L790.3,328.4L790.4,328.2L791.0,329.2L791.4,330.6L791.1,331.8L791.6,332.5L791.6,332.8L792.1,334.2L792.0,335.0L792.4,335.8L792.4,336.9L792.2,336.6L792.6,336.9L792.9,337.6L792.9,339.3L793.1,338.0L793.0,337.9L793.1,336.7L793.6,337.0L793.4,334.9L793.7,333.7L794.0,332.9L793.9,332.4L793.7,330.8L793.8,330.7L794.1,331.2L794.4,328.5L794.6,328.0L794.6,327.7L795.0,327.4L795.5,327.1L795.7,325.2L796.0,324.4L796.6,324.0L796.9,322.7L797.3,323.6L797.4,322.2L797.9,321.2L798.1,321.0L798.6,322.1L799.1,323.6L799.5,325.1L799.5,324.1L799.8,325.6L800.7,326.8L800.9,327.9L801.2,327.2L801.6,328.7L802.1,327.1L802.3,326.4L802.7,325.8L803.4,325.3L803.9,326.0L804.2,323.9L804.8,324.5L805.4,323.5L805.6,322.7L806.1,324.2L806.6,325.1L806.8,325.5L807.4,325.6L807.5,326.4L808.1,327.4L808.7,328.0L809.1,328.7L809.3,327.2L810.0,327.6L810.6,327.0L810.6,325.6L811.2,325.6L811.6,324.2L812.4,325.0L813.3,324.0L814.1,324.2L814.5,323.2L815.3,321.8L815.4,321.1L816.0,320.5L816.1,320.3L816.9,320.2L817.2,318.5L817.7,318.2L817.9,319.8L818.0,318.8L818.6,320.5L818.4,320.6L819.1,322.6L818.9,323.3L819.2,323.6L819.6,323.6L820.1,324.9L819.8,326.6L820.1,325.9L820.6,327.6L821.0,329.0L821.0,329.2L820.9,327.5L821.2,327.5L821.1,327.6L821.1,326.2L821.1,326.0L821.7,324.5L821.3,323.9L821.8,323.2L821.3,321.8L821.4,321.1L821.7,320.2M824.0,294.1L824.3,295.6L823.9,295.8L823.9,295.8L824.2,297.8L824.0,297.9L824.2,299.4L824.1,298.9L823.9,299.8L824.3,301.3L824.2,301.8L824.1,302.3L824.4,303.9L824.0,304.9L824.2,305.5L824.2,306.1M825.7,318.2L825.7,324.2M827.4,305.1L827.4,311.1M827.7,315.2L828.1,316.3L828.3,317.8L828.2,318.0L828.4,318.4L828.6,319.7L828.8,320.0L829.3,321.7L829.4,322.7L829.4,323.1L829.7,323.7L830.1,322.6L830.6,322.9L831.6,321.2L831.9,320.2L832.3,320.5L833.3,318.7L833.5,319.4L834.2,318.2L834.2,319.8L834.5,319.7L834.6,320.2L835.0,321.0L835.3,321.3L835.5,323.6L835.5,323.2L835.6,323.8L836.2,325.6L836.2,326.2L836.0,327.0L836.5,327.6L836.2,328.7L836.5,330.6L836.6,331.4L837.0,331.6L836.7,332.9L837.0,333.2M839.7,312.1L839.5,313.1L839.6,313.0L839.9,313.9L840.3,315.6L840.4,317.2L840.4,317.4L840.3,318.5L840.5,318.1L840.5,319.5L840.5,320.9L840.7,321.5L840.7,322.2L841.1,323.7L840.8,323.2L841.0,324.0L841.7,325.2L841.6,326.3L841.9,326.8L842.2,327.7L842.4,329.5L842.4,329.7L842.3,329.0L842.5,328.8L842.7,326.7L843.3,326.5L843.4,325.4L843.5,324.1L843.6,323.4L843.9,322.2L843.8,321.6L844.2,321.5L844.0,321.5L844.5,319.7L844.9,320.2L844.7,321.9L845.4,321.4L845.5,323.4L845.8,323.0L845.5,323.7L845.8,325.9L846.4,325.8L846.2,326.4L846.4,327.7L846.8,328.2L847.4,329.6L847.6,329.8L848.1,330.7L848.3,329.6L848.4,329.3L848.8,327.7L848.8,327.2" fill="none" stroke="#cacaca" stroke-width="1.75" stroke-linejoin="round" stroke-linecap="round"/>
<path d="M148.0,316.2L149.2,290.5M150.2,300.1L151.4,318.7M152.2,318.7L153.7,302.6M160.0,313.1L161.4,329.2L163.2,315.2M169.8,321.2L171.5,297.6L173.1,315.2L174.5,329.2M197.1,317.1L199.2,329.6M201.5,324.9L204.5,344.0L206.0,326.7L206.3,277.3L206.9,331.4L207.5,305.2L208.3,266.5L209.0,307.6M209.9,318.9L212.6,293.3M233.1,317.7L234.6,276.7M236.1,288.6L236.9,305.2L237.9,318.3M303.6,325.6L304.8,287.5M306.0,293.5L306.9,313.7L308.1,330.4M309.0,330.4L309.9,294.7M312.3,294.1L313.5,309.0L314.0,322.0L315.8,309.0M322.1,313.7L324.2,330.4M326.5,323.8L328.9,339.9L330.7,325.0M338.1,354.2L339.0,325.6L340.0,289.9M340.8,288.1L342.4,301.8L343.8,315.5M472.0,328.9L474.4,344.4M475.6,348.0L477.4,362.2L478.8,342.0L480.4,319.4L481.9,306.3M490.5,332.5L494.0,353.3M504.2,339.6L507.1,367.0L508.0,329.5L509.1,345.1L510.4,310.7L511.4,326.9M516.2,321.7L517.5,334.1L519.2,317.8L520.5,291.9L521.8,308.8L523.1,281.5M527.3,278.9L529.2,299.7M548.7,313.9L550.0,292.5M581.6,313.9L582.3,285.4L583.1,301.0L584.2,320.4L584.8,265.9M586.4,272.4L587.3,298.4L588.3,277.6L589.6,294.5M634.9,312.3L637.0,326.9M640.1,315.8L641.9,340.8L643.7,317.9L645.1,305.4L646.8,323.5L648.9,339.5M653.4,340.8L655.4,361.0L656.2,327.6L656.6,300.0L656.8,327.0L657.0,270.0L657.3,327.6L657.7,296.0L658.0,326.0L658.3,293.6L658.7,326.2L659.1,300.0L659.5,322.0L660.0,308.2M691.6,304.0L692.7,290.8M695.0,299.8L696.6,315.1M703.1,322.1L704.1,306.8M705.5,313.7L707.3,333.9L709.4,317.9L711.4,304.7M720.5,326.2L722.6,338.8M724.0,330.4L726.3,308.2M729.2,327.6L730.9,312.3M731.9,320.0L732.7,297.0L734.4,312.3M763.4,315.5L765.1,294.6M822.4,282.5L823.4,318.2L824.0,294.1M837.0,333.2L837.7,318.2L838.9,297.1L839.7,312.1" fill="none" stroke="#cacaca" stroke-width="1.15" stroke-linejoin="round" stroke-linecap="round"/>
<path d="M739.3,308.0 L739.4,308.8 L739.5,308.9 L739.6,309.5 L739.7,308.9 L739.7,310.5 L739.8,309.1 L739.9,309.5 L740.0,308.0 L740.0,308.7 L740.1,308.0 L740.2,309.5 L740.3,308.9 L740.4,309.5 L740.5,310.4 L740.6,310.7 L740.8,314.5 L741.0,315.3 L741.1,316.2 L741.2,315.4 L741.3,317.1 L741.4,318.1 L741.5,317.1 L741.6,318.8 L741.7,318.1 L741.8,319.7 L741.8,319.4 L741.9,318.0 L742.0,319.0 L742.1,319.0 L742.2,318.1 L742.3,318.1 L742.4,317.2 L742.5,317.2 L742.5,316.4 L742.6,316.4 L742.8,315.0 L742.9,314.5 L743.0,312.9 L743.1,312.8 L743.2,311.3 L743.3,311.3 L743.5,307.1 L743.6,307.1 L743.7,306.2 L743.7,307.1 L743.8,304.8 L743.9,302.8 L744.0,300.2 L744.2,280.8 L744.2,278.4 L744.3,278.1 L744.4,279.7 L744.5,282.6 L744.6,284.6 L744.7,287.4 L744.8,287.6 L744.9,290.3 L745.0,293.8 L745.2,295.5 L745.2,298.3 L745.3,299.9 L745.4,302.6 L745.6,305.5 L745.7,307.9 L745.8,308.9 L746.4,295.2 L746.5,291.2 L746.5,289.1 L746.6,284.6 L746.6,284.2 L746.8,280.8 L747.0,284.3 L747.2,286.6 L747.3,289.2 L747.4,290.0 L747.5,289.2 L747.5,291.7 L747.6,291.7 L747.7,294.3 L747.9,295.2 L748.0,295.2 L748.1,296.9 L748.2,296.3 L748.2,297.0 L748.3,296.9 L748.4,298.6 L748.5,298.6 L748.7,300.9 L748.8,302.0 L748.9,301.1 L749.0,303.4 L749.1,305.5 L749.2,305.5 L749.5,308.9 L749.7,308.8 L749.7,310.5 L749.8,309.4 L749.9,309.6 L750.0,310.5 L750.2,311.4 L750.3,311.4 L750.4,310.5 L750.5,311.4 L750.6,311.2 L750.6,310.3 L750.7,311.7 L750.9,311.3 L751.0,309.9 L751.3,308.4 L751.5,307.7 L751.6,306.2 L751.7,305.9 L751.9,305.9 L751.9,305.2 L752.0,306.2 L752.4,306.1 L752.4,306.9 L752.5,306.1 L752.8,306.1 L752.9,305.3 L753.0,307.1 L753.2,307.1" fill="none" stroke="#000" stroke-width="1.15" stroke-linejoin="round" stroke-linecap="round" />
<text y="236.0" font-family="DejaVu Sans, Liberation Sans, sans-serif" font-size="11px" fill="#000" xml:space="preserve"><tspan x="249.77">LANL</tspan> <tspan x="281.33">GEO</tspan> <tspan x="310.02">EP,</tspan> <tspan x="331.69" letter-spacing="0.12">1981-025,</tspan> <tspan x="392.87">L1,</tspan> <tspan x="414.48">CPA,</tspan> <tspan x="444.29" letter-spacing="0.27">electrons,</tspan> <tspan x="504.92">FCF:</tspan> <tspan x="532.67">NOMINAL</tspan> <tspan x="587.33">TC</tspan> <tspan x="606.12" letter-spacing="0.12">07272011,</tspan> <tspan x="669.83">60</tspan> <tspan x="688.51" letter-spacing="0.7">sec</tspan></text>
<text x="183.0" y="423.8" font-family="DejaVu Sans, Liberation Sans, sans-serif" font-size="11px" text-anchor="middle" fill="#000" >1984-01-15</text>
<text x="330.8" y="423.8" font-family="DejaVu Sans, Liberation Sans, sans-serif" font-size="11px" text-anchor="middle" fill="#000" >1984-01-17</text>
<text x="478.6" y="423.8" font-family="DejaVu Sans, Liberation Sans, sans-serif" font-size="11px" text-anchor="middle" fill="#000" >1984-01-19</text>
<text x="626.4000000000001" y="423.8" font-family="DejaVu Sans, Liberation Sans, sans-serif" font-size="11px" text-anchor="middle" fill="#000" >1984-01-21</text>
<text x="774.2" y="423.8" font-family="DejaVu Sans, Liberation Sans, sans-serif" font-size="11px" text-anchor="middle" fill="#000" >1984-01-23</text>
<text y="294.5" font-family="DejaVu Sans, Liberation Sans, sans-serif" fill="#000"><tspan x="76.85" font-size="11px">10</tspan><tspan x="91.24" dy="-4.6" font-size="10px">5</tspan></text>
<text y="341.5" font-family="DejaVu Sans, Liberation Sans, sans-serif" fill="#000"><tspan x="76.85" font-size="11px">10</tspan><tspan x="91.24" dy="-4.6" font-size="10px">4</tspan></text>
<text y="389.5" font-family="DejaVu Sans, Liberation Sans, sans-serif" fill="#000"><tspan x="76.85" font-size="11px">10</tspan><tspan x="91.24" dy="-4.6" font-size="10px">3</tspan></text>
<text transform="translate(69,323) rotate(-90)" font-family="DejaVu Sans, Liberation Sans, sans-serif" font-size="11px" text-anchor="middle" fill="#000">_65pt0_95pt0keV</text>
<path d="M110.5,222 V225.5 L738.5,240.5 V401 M849.5,222 V225.5 L756.5,240.5 V401 M738.5,252.5 H756.5 M738.5,384.5 H756.5" stroke="#cacaca" fill="none" stroke-width="1" />
<g shape-rendering="crispEdges">
<rect x="110" y="445" width="315" height="1" fill="#000"/>
<rect x="110" y="602" width="315" height="1" fill="#000"/>
<rect x="110" y="445" width="1" height="158" fill="#000"/>
<rect x="424" y="445" width="1" height="158" fill="#000"/>
<rect x="102" y="602" width="8" height="1" fill="#000"/>
<rect x="106" y="581" width="4" height="1" fill="#000"/>
<rect x="106" y="568" width="4" height="1" fill="#000"/>
<rect x="106" y="559" width="4" height="1" fill="#000"/>
<rect x="106" y="552" width="4" height="1" fill="#000"/>
<rect x="106" y="546" width="4" height="1" fill="#000"/>
<rect x="106" y="541" width="4" height="1" fill="#000"/>
<rect x="106" y="537" width="4" height="1" fill="#000"/>
<rect x="106" y="533" width="4" height="1" fill="#000"/>
<rect x="102" y="530" width="8" height="1" fill="#000"/>
<rect x="106" y="508" width="4" height="1" fill="#000"/>
<rect x="106" y="496" width="4" height="1" fill="#000"/>
<rect x="106" y="487" width="4" height="1" fill="#000"/>
<rect x="106" y="480" width="4" height="1" fill="#000"/>
<rect x="106" y="474" width="4" height="1" fill="#000"/>
<rect x="106" y="469" width="4" height="1" fill="#000"/>
<rect x="106" y="465" width="4" height="1" fill="#000"/>
<rect x="106" y="461" width="4" height="1" fill="#000"/>
<rect x="102" y="458" width="8" height="1" fill="#000"/>
<rect x="112" y="603" width="1" height="8" fill="#000"/>
<rect x="132" y="603" width="1" height="4" fill="#000"/>
<rect x="143" y="603" width="1" height="4" fill="#000"/>
<rect x="151" y="603" width="1" height="4" fill="#000"/>
<rect x="157" y="603" width="1" height="4" fill="#000"/>
<rect x="162" y="603" width="1" height="4" fill="#000"/>
<rect x="166" y="603" width="1" height="4" fill="#000"/>
<rect x="170" y="603" width="1" height="4" fill="#000"/>
<rect x="173" y="603" width="1" height="4" fill="#000"/>
<rect x="176" y="603" width="1" height="8" fill="#000"/>
<rect x="195" y="603" width="1" height="4" fill="#000"/>
<rect x="207" y="603" width="1" height="4" fill="#000"/>
<rect x="215" y="603" width="1" height="4" fill="#000"/>
<rect x="221" y="603" width="1" height="4" fill="#000"/>
<rect x="226" y="603" width="1" height="4" fill="#000"/>
<rect x="230" y="603" width="1" height="4" fill="#000"/>
<rect x="234" y="603" width="1" height="4" fill="#000"/>
<rect x="237" y="603" width="1" height="4" fill="#000"/>
<rect x="240" y="603" width="1" height="8" fill="#000"/>
<rect x="259" y="603" width="1" height="4" fill="#000"/>
<rect x="271" y="603" width="1" height="4" fill="#000"/>
<rect x="279" y="603" width="1" height="4" fill="#000"/>
<rect x="285" y="603" width="1" height="4" fill="#000"/>
<rect x="290" y="603" width="1" height="4" fill="#000"/>
<rect x="294" y="603" width="1" height="4" fill="#000"/>
<rect x="298" y="603" width="1" height="4" fill="#000"/>
<rect x="301" y="603" width="1" height="4" fill="#000"/>
<rect x="304" y="603" width="1" height="8" fill="#000"/>
<rect x="323" y="603" width="1" height="4" fill="#000"/>
<rect x="335" y="603" width="1" height="4" fill="#000"/>
<rect x="343" y="603" width="1" height="4" fill="#000"/>
<rect x="349" y="603" width="1" height="4" fill="#000"/>
<rect x="354" y="603" width="1" height="4" fill="#000"/>
<rect x="358" y="603" width="1" height="4" fill="#000"/>
<rect x="362" y="603" width="1" height="4" fill="#000"/>
<rect x="365" y="603" width="1" height="4" fill="#000"/>
<rect x="368" y="603" width="1" height="8" fill="#000"/>
<rect x="387" y="603" width="1" height="4" fill="#000"/>
<rect x="398" y="603" width="1" height="4" fill="#000"/>
<rect x="406" y="603" width="1" height="4" fill="#000"/>
<rect x="413" y="603" width="1" height="4" fill="#000"/>
<rect x="418" y="603" width="1" height="4" fill="#000"/>
<rect x="422" y="603" width="1" height="4" fill="#000"/>
<rect x="110" y="603" width="1" height="4" fill="#000"/>
</g>
<text y="436.9" font-family="DejaVu Sans, Liberation Sans, sans-serif" font-size="11px" fill="#000" xml:space="preserve"><tspan x="37.92">LANL</tspan> <tspan x="69.48">GEO</tspan> <tspan x="98.17">EP,</tspan> <tspan x="119.84" letter-spacing="0.12">1981-025,</tspan> <tspan x="181.02">L1,</tspan> <tspan x="202.63">CPA,</tspan> <tspan x="232.44" letter-spacing="0.27">electrons,</tspan> <tspan x="293.07">FCF:</tspan> <tspan x="320.82">NOMINAL</tspan> <tspan x="375.48">TC</tspan> <tspan x="394.27" letter-spacing="0.12">07272011,</tspan> <tspan x="457.98">60</tspan> <tspan x="476.66" letter-spacing="0.7">sec</tspan></text>
<text y="625" font-family="DejaVu Sans, Liberation Sans, sans-serif" fill="#000"><tspan x="101.32" font-size="11px">10</tspan><tspan x="115.72" dy="-4.6" font-size="10px">2</tspan></text>
<text y="625" font-family="DejaVu Sans, Liberation Sans, sans-serif" fill="#000"><tspan x="165.22" font-size="11px">10</tspan><tspan x="179.62" dy="-4.6" font-size="10px">3</tspan></text>
<text y="625" font-family="DejaVu Sans, Liberation Sans, sans-serif" fill="#000"><tspan x="229.12" font-size="11px">10</tspan><tspan x="243.52" dy="-4.6" font-size="10px">4</tspan></text>
<text y="625" font-family="DejaVu Sans, Liberation Sans, sans-serif" fill="#000"><tspan x="293.02" font-size="11px">10</tspan><tspan x="307.42" dy="-4.6" font-size="10px">5</tspan></text>
<text y="625" font-family="DejaVu Sans, Liberation Sans, sans-serif" fill="#000"><tspan x="356.92" font-size="11px">10</tspan><tspan x="371.32" dy="-4.6" font-size="10px">6</tspan></text>
<text y="464.5" font-family="DejaVu Sans, Liberation Sans, sans-serif" fill="#000"><tspan x="76.85" font-size="11px">10</tspan><tspan x="91.24" dy="-4.6" font-size="10px">2</tspan></text>
<text y="536.5" font-family="DejaVu Sans, Liberation Sans, sans-serif" fill="#000"><tspan x="76.85" font-size="11px">10</tspan><tspan x="91.24" dy="-4.6" font-size="10px">1</tspan></text>
<text y="608.5" font-family="DejaVu Sans, Liberation Sans, sans-serif" fill="#000"><tspan x="76.85" font-size="11px">10</tspan><tspan x="91.24" dy="-4.6" font-size="10px">0</tspan></text>
<text transform="translate(69,524) rotate(-90)" font-family="DejaVu Sans, Liberation Sans, sans-serif" font-size="11px" text-anchor="middle" fill="#000">_600pt0_900pt0keV</text>
<text x="267.4" y="641" font-family="DejaVu Sans, Liberation Sans, sans-serif" font-size="11px" text-anchor="middle" fill="#000" >_65pt0_95pt0keV</text>
<g shape-rendering="crispEdges">
<rect x="534" y="445" width="316" height="1" fill="#000"/>
<rect x="534" y="602" width="316" height="1" fill="#000"/>
<rect x="534" y="445" width="1" height="158" fill="#000"/>
<rect x="849" y="445" width="1" height="158" fill="#000"/>
<rect x="530" y="601" width="4" height="1" fill="#000"/>
<rect x="530" y="598" width="4" height="1" fill="#000"/>
<rect x="530" y="595" width="4" height="1" fill="#000"/>
<rect x="530" y="593" width="4" height="1" fill="#000"/>
<rect x="526" y="591" width="8" height="1" fill="#000"/>
<rect x="530" y="578" width="4" height="1" fill="#000"/>
<rect x="530" y="570" width="4" height="1" fill="#000"/>
<rect x="530" y="564" width="4" height="1" fill="#000"/>
<rect x="530" y="560" width="4" height="1" fill="#000"/>
<rect x="530" y="556" width="4" height="1" fill="#000"/>
<rect x="530" y="553" width="4" height="1" fill="#000"/>
<rect x="530" y="551" width="4" height="1" fill="#000"/>
<rect x="530" y="548" width="4" height="1" fill="#000"/>
<rect x="526" y="546" width="8" height="1" fill="#000"/>
<rect x="530" y="533" width="4" height="1" fill="#000"/>
<rect x="530" y="525" width="4" height="1" fill="#000"/>
<rect x="530" y="519" width="4" height="1" fill="#000"/>
<rect x="530" y="515" width="4" height="1" fill="#000"/>
<rect x="530" y="511" width="4" height="1" fill="#000"/>
<rect x="530" y="508" width="4" height="1" fill="#000"/>
<rect x="530" y="506" width="4" height="1" fill="#000"/>
<rect x="530" y="504" width="4" height="1" fill="#000"/>
<rect x="526" y="502" width="8" height="1" fill="#000"/>
<rect x="530" y="488" width="4" height="1" fill="#000"/>
<rect x="530" y="480" width="4" height="1" fill="#000"/>
<rect x="530" y="475" width="4" height="1" fill="#000"/>
<rect x="530" y="470" width="4" height="1" fill="#000"/>
<rect x="530" y="467" width="4" height="1" fill="#000"/>
<rect x="530" y="464" width="4" height="1" fill="#000"/>
<rect x="530" y="461" width="4" height="1" fill="#000"/>
<rect x="530" y="459" width="4" height="1" fill="#000"/>
<rect x="526" y="457" width="8" height="1" fill="#000"/>
<rect x="540" y="603" width="1" height="4" fill="#000"/>
<rect x="547" y="603" width="1" height="4" fill="#000"/>
<rect x="554" y="603" width="1" height="4" fill="#000"/>
<rect x="559" y="603" width="1" height="4" fill="#000"/>
<rect x="564" y="603" width="1" height="4" fill="#000"/>
<rect x="569" y="603" width="1" height="8" fill="#000"/>
<rect x="598" y="603" width="1" height="4" fill="#000"/>
<rect x="615" y="603" width="1" height="4" fill="#000"/>
<rect x="627" y="603" width="1" height="4" fill="#000"/>
<rect x="636" y="603" width="1" height="4" fill="#000"/>
<rect x="643" y="603" width="1" height="4" fill="#000"/>
<rect x="650" y="603" width="1" height="4" fill="#000"/>
<rect x="656" y="603" width="1" height="4" fill="#000"/>
<rect x="660" y="603" width="1" height="4" fill="#000"/>
<rect x="665" y="603" width="1" height="8" fill="#000"/>
<rect x="694" y="603" width="1" height="4" fill="#000"/>
<rect x="711" y="603" width="1" height="4" fill="#000"/>
<rect x="723" y="603" width="1" height="4" fill="#000"/>
<rect x="732" y="603" width="1" height="4" fill="#000"/>
<rect x="740" y="603" width="1" height="4" fill="#000"/>
<rect x="746" y="603" width="1" height="4" fill="#000"/>
<rect x="752" y="603" width="1" height="4" fill="#000"/>
<rect x="757" y="603" width="1" height="4" fill="#000"/>
<rect x="761" y="603" width="1" height="8" fill="#000"/>
<rect x="790" y="603" width="1" height="4" fill="#000"/>
<rect x="807" y="603" width="1" height="4" fill="#000"/>
<rect x="819" y="603" width="1" height="4" fill="#000"/>
<rect x="828" y="603" width="1" height="4" fill="#000"/>
<rect x="836" y="603" width="1" height="4" fill="#000"/>
<rect x="842" y="603" width="1" height="4" fill="#000"/>
<rect x="848" y="603" width="1" height="4" fill="#000"/>
</g>
<text y="436.9" font-family="DejaVu Sans, Liberation Sans, sans-serif" font-size="11px" fill="#000" xml:space="preserve"><tspan x="462.72">LANL</tspan> <tspan x="494.28">GEO</tspan> <tspan x="522.97">EP,</tspan> <tspan x="544.64" letter-spacing="0.12">1981-025,</tspan> <tspan x="605.82">L1,</tspan> <tspan x="627.43">CPA,</tspan> <tspan x="657.25" letter-spacing="0.27">electrons,</tspan> <tspan x="717.87">FCF:</tspan> <tspan x="745.62">NOMINAL</tspan> <tspan x="800.28">TC</tspan> <tspan x="819.07" letter-spacing="0.12">07272011,</tspan> <tspan x="882.78">60</tspan> <tspan x="901.46" letter-spacing="0.7">sec</tspan></text>
<text y="625" font-family="DejaVu Sans, Liberation Sans, sans-serif" fill="#000"><tspan x="558.32" font-size="11px">10</tspan><tspan x="572.72" dy="-4.6" font-size="10px">3</tspan></text>
<text y="625" font-family="DejaVu Sans, Liberation Sans, sans-serif" fill="#000"><tspan x="654.62" font-size="11px">10</tspan><tspan x="669.02" dy="-4.6" font-size="10px">4</tspan></text>
<text y="625" font-family="DejaVu Sans, Liberation Sans, sans-serif" fill="#000"><tspan x="750.92" font-size="11px">10</tspan><tspan x="765.32" dy="-4.6" font-size="10px">5</tspan></text>
<text y="463.5" font-family="DejaVu Sans, Liberation Sans, sans-serif" fill="#000"><tspan x="500.85" font-size="11px">10</tspan><tspan x="515.24" dy="-4.6" font-size="10px">6</tspan></text>
<text y="508.5" font-family="DejaVu Sans, Liberation Sans, sans-serif" fill="#000"><tspan x="500.85" font-size="11px">10</tspan><tspan x="515.24" dy="-4.6" font-size="10px">5</tspan></text>
<text y="552.5" font-family="DejaVu Sans, Liberation Sans, sans-serif" fill="#000"><tspan x="500.85" font-size="11px">10</tspan><tspan x="515.24" dy="-4.6" font-size="10px">4</tspan></text>
<text y="597.5" font-family="DejaVu Sans, Liberation Sans, sans-serif" fill="#000"><tspan x="500.85" font-size="11px">10</tspan><tspan x="515.24" dy="-4.6" font-size="10px">3</tspan></text>
<text transform="translate(493,524) rotate(-90)" font-family="DejaVu Sans, Liberation Sans, sans-serif" font-size="11px" text-anchor="middle" fill="#000">_45pt0_65pt0keV</text>
<text x="691.4" y="641" font-family="DejaVu Sans, Liberation Sans, sans-serif" font-size="11px" text-anchor="middle" fill="#000" >_65pt0_95pt0keV</text>
<path d="M267.20,452.08a0.6,0.6 0 1,0 1.2,0a0.6,0.6 0 1,0 -1.2,0M261.92,451.98a0.6,0.6 0 1,0 1.2,0a0.6,0.6 0 1,0 -1.2,0M271.65,451.13a0.6,0.6 0 1,0 1.2,0a0.6,0.6 0 1,0 -1.2,0M271.06,451.70a0.6,0.6 0 1,0 1.2,0a0.6,0.6 0 1,0 -1.2,0M261.19,449.93a0.6,0.6 0 1,0 1.2,0a0.6,0.6 0 1,0 -1.2,0M262.30,450.69a0.6,0.6 0 1,0 1.2,0a0.6,0.6 0 1,0 -1.2,0M269.31,451.50a0.6,0.6 0 1,0 1.2,0a0.6,0.6 0 1,0 -1.2,0M265.09,450.18a0.6,0.6 0 1,0 1.2,0a0.6,0.6 0 1,0 -1.2,0M273.58,453.23a0.6,0.6 0 1,0 1.2,0a0.6,0.6 0 1,0 -1.2,0M268.73,450.58a0.6,0.6 0 1,0 1.2,0a0.6,0.6 0 1,0 -1.2,0M280.90,454.81a0.6,0.6 0 1,0 1.2,0a0.6,0.6 0 1,0 -1.2,0M266.48,451.65a0.6,0.6 0 1,0 1.2,0a0.6,0.6 0 1,0 -1.2,0M263.43,451.43a0.6,0.6 0 1,0 1.2,0a0.6,0.6 0 1,0 -1.2,0M277.54,452.77a0.6,0.6 0 1,0 1.2,0a0.6,0.6 0 1,0 -1.2,0M264.20,449.06a0.6,0.6 0 1,0 1.2,0a0.6,0.6 0 1,0 -1.2,0M268.22,450.17a0.6,0.6 0 1,0 1.2,0a0.6,0.6 0 1,0 -1.2,0M271.90,451.87a0.6,0.6 0 1,0 1.2,0a0.6,0.6 0 1,0 -1.2,0M264.73,450.91a0.6,0.6 0 1,0 1.2,0a0.6,0.6 0 1,0 -1.2,0M274.69,450.71a0.6,0.6 0 1,0 1.2,0a0.6,0.6 0 1,0 -1.2,0M272.70,452.03a0.6,0.6 0 1,0 1.2,0a0.6,0.6 0 1,0 -1.2,0M269.92,450.54a0.6,0.6 0 1,0 1.2,0a0.6,0.6 0 1,0 -1.2,0M275.08,453.97a0.6,0.6 0 1,0 1.2,0a0.6,0.6 0 1,0 -1.2,0M265.53,449.40a0.6,0.6 0 1,0 1.2,0a0.6,0.6 0 1,0 -1.2,0M278.78,451.42a0.6,0.6 0 1,0 1.2,0a0.6,0.6 0 1,0 -1.2,0M275.72,450.97a0.6,0.6 0 1,0 1.2,0a0.6,0.6 0 1,0 -1.2,0M262.88,454.09a0.6,0.6 0 1,0 1.2,0a0.6,0.6 0 1,0 -1.2,0M269.18,451.21a0.6,0.6 0 1,0 1.2,0a0.6,0.6 0 1,0 -1.2,0M270.67,450.58a0.6,0.6 0 1,0 1.2,0a0.6,0.6 0 1,0 -1.2,0M261.22,449.30a0.6,0.6 0 1,0 1.2,0a0.6,0.6 0 1,0 -1.2,0M272.43,449.58a0.6,0.6 0 1,0 1.2,0a0.6,0.6 0 1,0 -1.2,0M278.79,451.36a0.6,0.6 0 1,0 1.2,0a0.6,0.6 0 1,0 -1.2,0M272.88,453.39a0.6,0.6 0 1,0 1.2,0a0.6,0.6 0 1,0 -1.2,0M272.58,449.12a0.6,0.6 0 1,0 1.2,0a0.6,0.6 0 1,0 -1.2,0M280.24,452.96a0.6,0.6 0 1,0 1.2,0a0.6,0.6 0 1,0 -1.2,0M270.36,451.06a0.6,0.6 0 1,0 1.2,0a0.6,0.6 0 1,0 -1.2,0M275.13,451.38a0.6,0.6 0 1,0 1.2,0a0.6,0.6 0 1,0 -1.2,0M273.99,454.07a0.6,0.6 0 1,0 1.2,0a0.6,0.6 0 1,0 -1.2,0M266.38,450.79a0.6,0.6 0 1,0 1.2,0a0.6,0.6 0 1,0 -1.2,0M268.50,450.97a0.6,0.6 0 1,0 1.2,0a0.6,0.6 0 1,0 -1.2,0M270.10,451.03a0.6,0.6 0 1,0 1.2,0a0.6,0.6 0 1,0 -1.2,0M263.93,450.99a0.6,0.6 0 1,0 1.2,0a0.6,0.6 0 1,0 -1.2,0M276.53,452.22a0.6,0.6 0 1,0 1.2,0a0.6,0.6 0 1,0 -1.2,0M263.12,450.59a0.6,0.6 0 1,0 1.2,0a0.6,0.6 0 1,0 -1.2,0M278.70,453.42a0.6,0.6 0 1,0 1.2,0a0.6,0.6 0 1,0 -1.2,0M262.09,448.91a0.6,0.6 0 1,0 1.2,0a0.6,0.6 0 1,0 -1.2,0M278.95,452.67a0.6,0.6 0 1,0 1.2,0a0.6,0.6 0 1,0 -1.2,0M277.60,452.71a0.6,0.6 0 1,0 1.2,0a0.6,0.6 0 1,0 -1.2,0M269.12,450.38a0.6,0.6 0 1,0 1.2,0a0.6,0.6 0 1,0 -1.2,0M267.93,453.50a0.6,0.6 0 1,0 1.2,0a0.6,0.6 0 1,0 -1.2,0M263.57,448.44a0.6,0.6 0 1,0 1.2,0a0.6,0.6 0 1,0 -1.2,0M264.10,450.78a0.6,0.6 0 1,0 1.2,0a0.6,0.6 0 1,0 -1.2,0M270.58,452.26a0.6,0.6 0 1,0 1.2,0a0.6,0.6 0 1,0 -1.2,0M272.77,451.53a0.6,0.6 0 1,0 1.2,0a0.6,0.6 0 1,0 -1.2,0M269.20,451.30a0.6,0.6 0 1,0 1.2,0a0.6,0.6 0 1,0 -1.2,0M268.15,448.13a0.6,0.6 0 1,0 1.2,0a0.6,0.6 0 1,0 -1.2,0M274.90,450.45a0.6,0.6 0 1,0 1.2,0a0.6,0.6 0 1,0 -1.2,0M271.23,449.94a0.6,0.6 0 1,0 1.2,0a0.6,0.6 0 1,0 -1.2,0M261.53,449.10a0.6,0.6 0 1,0 1.2,0a0.6,0.6 0 1,0 -1.2,0M279.29,452.68a0.6,0.6 0 1,0 1.2,0a0.6,0.6 0 1,0 -1.2,0M277.16,449.37a0.6,0.6 0 1,0 1.2,0a0.6,0.6 0 1,0 -1.2,0M268.64,450.63a0.6,0.6 0 1,0 1.2,0a0.6,0.6 0 1,0 -1.2,0M273.72,451.99a0.6,0.6 0 1,0 1.2,0a0.6,0.6 0 1,0 -1.2,0M261.71,451.24a0.6,0.6 0 1,0 1.2,0a0.6,0.6 0 1,0 -1.2,0M263.81,451.01a0.6,0.6 0 1,0 1.2,0a0.6,0.6 0 1,0 -1.2,0M267.54,451.04a0.6,0.6 0 1,0 1.2,0a0.6,0.6 0 1,0 -1.2,0M263.58,450.63a0.6,0.6 0 1,0 1.2,0a0.6,0.6 0 1,0 -1.2,0M262.53,450.32a0.6,0.6 0 1,0 1.2,0a0.6,0.6 0 1,0 -1.2,0M278.76,452.36a0.6,0.6 0 1,0 1.2,0a0.6,0.6 0 1,0 -1.2,0M273.30,452.18a0.6,0.6 0 1,0 1.2,0a0.6,0.6 0 1,0 -1.2,0M267.70,451.83a0.6,0.6 0 1,0 1.2,0a0.6,0.6 0 1,0 -1.2,0M268.05,452.88a0.6,0.6 0 1,0 1.2,0a0.6,0.6 0 1,0 -1.2,0M281.26,454.15a0.6,0.6 0 1,0 1.2,0a0.6,0.6 0 1,0 -1.2,0M270.19,450.73a0.6,0.6 0 1,0 1.2,0a0.6,0.6 0 1,0 -1.2,0M262.55,450.57a0.6,0.6 0 1,0 1.2,0a0.6,0.6 0 1,0 -1.2,0M267.60,450.79a0.6,0.6 0 1,0 1.2,0a0.6,0.6 0 1,0 -1.2,0M263.79,453.07a0.6,0.6 0 1,0 1.2,0a0.6,0.6 0 1,0 -1.2,0M260.89,451.87a0.6,0.6 0 1,0 1.2,0a0.6,0.6 0 1,0 -1.2,0M263.48,450.12a0.6,0.6 0 1,0 1.2,0a0.6,0.6 0 1,0 -1.2,0M271.81,453.01a0.6,0.6 0 1,0 1.2,0a0.6,0.6 0 1,0 -1.2,0M280.95,452.62a0.6,0.6 0 1,0 1.2,0a0.6,0.6 0 1,0 -1.2,0M278.53,451.78a0.6,0.6 0 1,0 1.2,0a0.6,0.6 0 1,0 -1.2,0M268.10,450.12a0.6,0.6 0 1,0 1.2,0a0.6,0.6 0 1,0 -1.2,0M263.91,450.87a0.6,0.6 0 1,0 1.2,0a0.6,0.6 0 1,0 -1.2,0M276.76,450.35a0.6,0.6 0 1,0 1.2,0a0.6,0.6 0 1,0 -1.2,0M267.32,451.39a0.6,0.6 0 1,0 1.2,0a0.6,0.6 0 1,0 -1.2,0M281.08,454.71a0.6,0.6 0 1,0 1.2,0a0.6,0.6 0 1,0 -1.2,0M278.31,452.92a0.6,0.6 0 1,0 1.2,0a0.6,0.6 0 1,0 -1.2,0M275.94,449.60a0.6,0.6 0 1,0 1.2,0a0.6,0.6 0 1,0 -1.2,0M265.16,449.56a0.6,0.6 0 1,0 1.2,0a0.6,0.6 0 1,0 -1.2,0M261.01,450.23a0.6,0.6 0 1,0 1.2,0a0.6,0.6 0 1,0 -1.2,0M260.99,450.17a0.6,0.6 0 1,0 1.2,0a0.6,0.6 0 1,0 -1.2,0M274.94,452.74a0.6,0.6 0 1,0 1.2,0a0.6,0.6 0 1,0 -1.2,0M280.49,449.42a0.6,0.6 0 1,0 1.2,0a0.6,0.6 0 1,0 -1.2,0M281.15,453.37a0.6,0.6 0 1,0 1.2,0a0.6,0.6 0 1,0 -1.2,0M280.46,451.70a0.6,0.6 0 1,0 1.2,0a0.6,0.6 0 1,0 -1.2,0M278.89,453.76a0.6,0.6 0 1,0 1.2,0a0.6,0.6 0 1,0 -1.2,0M279.05,454.27a0.6,0.6 0 1,0 1.2,0a0.6,0.6 0 1,0 -1.2,0M279.94,456.24a0.6,0.6 0 1,0 1.2,0a0.6,0.6 0 1,0 -1.2,0M276.74,451.15a0.6,0.6 0 1,0 1.2,0a0.6,0.6 0 1,0 -1.2,0M278.44,453.82a0.6,0.6 0 1,0 1.2,0a0.6,0.6 0 1,0 -1.2,0M277.68,451.61a0.6,0.6 0 1,0 1.2,0a0.6,0.6 0 1,0 -1.2,0M275.79,454.17a0.6,0.6 0 1,0 1.2,0a0.6,0.6 0 1,0 -1.2,0M276.08,452.54a0.6,0.6 0 1,0 1.2,0a0.6,0.6 0 1,0 -1.2,0M278.31,453.97a0.6,0.6 0 1,0 1.2,0a0.6,0.6 0 1,0 -1.2,0M277.07,455.02a0.6,0.6 0 1,0 1.2,0a0.6,0.6 0 1,0 -1.2,0M274.90,452.23a0.6,0.6 0 1,0 1.2,0a0.6,0.6 0 1,0 -1.2,0M279.00,456.18a0.6,0.6 0 1,0 1.2,0a0.6,0.6 0 1,0 -1.2,0M277.51,454.03a0.6,0.6 0 1,0 1.2,0a0.6,0.6 0 1,0 -1.2,0M278.79,455.75a0.6,0.6 0 1,0 1.2,0a0.6,0.6 0 1,0 -1.2,0M280.49,453.93a0.6,0.6 0 1,0 1.2,0a0.6,0.6 0 1,0 -1.2,0M277.51,455.80a0.6,0.6 0 1,0 1.2,0a0.6,0.6 0 1,0 -1.2,0M274.97,452.73a0.6,0.6 0 1,0 1.2,0a0.6,0.6 0 1,0 -1.2,0M277.19,452.74a0.6,0.6 0 1,0 1.2,0a0.6,0.6 0 1,0 -1.2,0M277.99,458.10a0.6,0.6 0 1,0 1.2,0a0.6,0.6 0 1,0 -1.2,0M278.51,452.37a0.6,0.6 0 1,0 1.2,0a0.6,0.6 0 1,0 -1.2,0M276.92,455.26a0.6,0.6 0 1,0 1.2,0a0.6,0.6 0 1,0 -1.2,0M277.64,455.80a0.6,0.6 0 1,0 1.2,0a0.6,0.6 0 1,0 -1.2,0M276.45,453.91a0.6,0.6 0 1,0 1.2,0a0.6,0.6 0 1,0 -1.2,0M279.16,453.26a0.6,0.6 0 1,0 1.2,0a0.6,0.6 0 1,0 -1.2,0M279.13,452.47a0.6,0.6 0 1,0 1.2,0a0.6,0.6 0 1,0 -1.2,0M277.68,452.81a0.6,0.6 0 1,0 1.2,0a0.6,0.6 0 1,0 -1.2,0M278.54,454.94a0.6,0.6 0 1,0 1.2,0a0.6,0.6 0 1,0 -1.2,0M277.55,451.43a0.6,0.6 0 1,0 1.2,0a0.6,0.6 0 1,0 -1.2,0M278.65,455.06a0.6,0.6 0 1,0 1.2,0a0.6,0.6 0 1,0 -1.2,0M277.43,455.34a0.6,0.6 0 1,0 1.2,0a0.6,0.6 0 1,0 -1.2,0M277.44,451.57a0.6,0.6 0 1,0 1.2,0a0.6,0.6 0 1,0 -1.2,0M277.89,455.42a0.6,0.6 0 1,0 1.2,0a0.6,0.6 0 1,0 -1.2,0M278.36,453.66a0.6,0.6 0 1,0 1.2,0a0.6,0.6 0 1,0 -1.2,0M278.31,453.92a0.6,0.6 0 1,0 1.2,0a0.6,0.6 0 1,0 -1.2,0M277.44,450.91a0.6,0.6 0 1,0 1.2,0a0.6,0.6 0 1,0 -1.2,0M278.55,452.18a0.6,0.6 0 1,0 1.2,0a0.6,0.6 0 1,0 -1.2,0M277.80,451.45a0.6,0.6 0 1,0 1.2,0a0.6,0.6 0 1,0 -1.2,0M278.01,453.77a0.6,0.6 0 1,0 1.2,0a0.6,0.6 0 1,0 -1.2,0" fill="#000" fill-opacity="0.95"/>
<path d="M302.11,448.70a0.5,0.5 0 1,0 1.0,0a0.5,0.5 0 1,0 -1.0,0M291.20,449.22a0.5,0.5 0 1,0 1.0,0a0.5,0.5 0 1,0 -1.0,0M300.27,451.13a0.5,0.5 0 1,0 1.0,0a0.5,0.5 0 1,0 -1.0,0M302.16,449.36a0.5,0.5 0 1,0 1.0,0a0.5,0.5 0 1,0 -1.0,0M298.01,446.91a0.5,0.5 0 1,0 1.0,0a0.5,0.5 0 1,0 -1.0,0M303.94,447.84a0.5,0.5 0 1,0 1.0,0a0.5,0.5 0 1,0 -1.0,0M306.75,449.03a0.5,0.5 0 1,0 1.0,0a0.5,0.5 0 1,0 -1.0,0M298.33,448.10a0.5,0.5 0 1,0 1.0,0a0.5,0.5 0 1,0 -1.0,0M315.45,448.55a0.5,0.5 0 1,0 1.0,0a0.5,0.5 0 1,0 -1.0,0M306.97,450.94a0.5,0.5 0 1,0 1.0,0a0.5,0.5 0 1,0 -1.0,0M291.59,447.69a0.5,0.5 0 1,0 1.0,0a0.5,0.5 0 1,0 -1.0,0M302.08,451.19a0.5,0.5 0 1,0 1.0,0a0.5,0.5 0 1,0 -1.0,0M287.30,448.92a0.5,0.5 0 1,0 1.0,0a0.5,0.5 0 1,0 -1.0,0M286.76,449.27a0.5,0.5 0 1,0 1.0,0a0.5,0.5 0 1,0 -1.0,0M290.92,449.70a0.5,0.5 0 1,0 1.0,0a0.5,0.5 0 1,0 -1.0,0M285.06,448.79a0.5,0.5 0 1,0 1.0,0a0.5,0.5 0 1,0 -1.0,0M313.90,447.17a0.5,0.5 0 1,0 1.0,0a0.5,0.5 0 1,0 -1.0,0M287.91,449.30a0.5,0.5 0 1,0 1.0,0a0.5,0.5 0 1,0 -1.0,0M287.50,448.07a0.5,0.5 0 1,0 1.0,0a0.5,0.5 0 1,0 -1.0,0M313.40,449.63a0.5,0.5 0 1,0 1.0,0a0.5,0.5 0 1,0 -1.0,0M315.84,448.64a0.5,0.5 0 1,0 1.0,0a0.5,0.5 0 1,0 -1.0,0M296.44,447.22a0.5,0.5 0 1,0 1.0,0a0.5,0.5 0 1,0 -1.0,0M288.15,449.90a0.5,0.5 0 1,0 1.0,0a0.5,0.5 0 1,0 -1.0,0M297.60,448.35a0.5,0.5 0 1,0 1.0,0a0.5,0.5 0 1,0 -1.0,0M289.35,449.50a0.5,0.5 0 1,0 1.0,0a0.5,0.5 0 1,0 -1.0,0M293.65,449.43a0.5,0.5 0 1,0 1.0,0a0.5,0.5 0 1,0 -1.0,0M301.89,449.00a0.5,0.5 0 1,0 1.0,0a0.5,0.5 0 1,0 -1.0,0M297.92,450.32a0.5,0.5 0 1,0 1.0,0a0.5,0.5 0 1,0 -1.0,0M304.34,449.26a0.5,0.5 0 1,0 1.0,0a0.5,0.5 0 1,0 -1.0,0M300.43,452.20a0.5,0.5 0 1,0 1.0,0a0.5,0.5 0 1,0 -1.0,0M310.09,450.23a0.5,0.5 0 1,0 1.0,0a0.5,0.5 0 1,0 -1.0,0M316.51,449.46a0.5,0.5 0 1,0 1.0,0a0.5,0.5 0 1,0 -1.0,0M283.89,450.29a0.5,0.5 0 1,0 1.0,0a0.5,0.5 0 1,0 -1.0,0M309.76,448.91a0.5,0.5 0 1,0 1.0,0a0.5,0.5 0 1,0 -1.0,0M297.28,449.93a0.5,0.5 0 1,0 1.0,0a0.5,0.5 0 1,0 -1.0,0M314.40,449.20a0.5,0.5 0 1,0 1.0,0a0.5,0.5 0 1,0 -1.0,0M287.73,448.87a0.5,0.5 0 1,0 1.0,0a0.5,0.5 0 1,0 -1.0,0M314.67,447.29a0.5,0.5 0 1,0 1.0,0a0.5,0.5 0 1,0 -1.0,0M285.63,448.97a0.5,0.5 0 1,0 1.0,0a0.5,0.5 0 1,0 -1.0,0M284.51,449.30a0.5,0.5 0 1,0 1.0,0a0.5,0.5 0 1,0 -1.0,0M285.03,448.65a0.5,0.5 0 1,0 1.0,0a0.5,0.5 0 1,0 -1.0,0M315.34,447.50a0.5,0.5 0 1,0 1.0,0a0.5,0.5 0 1,0 -1.0,0M285.43,448.23a0.5,0.5 0 1,0 1.0,0a0.5,0.5 0 1,0 -1.0,0M312.47,450.90a0.5,0.5 0 1,0 1.0,0a0.5,0.5 0 1,0 -1.0,0M298.38,450.21a0.5,0.5 0 1,0 1.0,0a0.5,0.5 0 1,0 -1.0,0M294.37,447.07a0.5,0.5 0 1,0 1.0,0a0.5,0.5 0 1,0 -1.0,0M291.88,448.70a0.5,0.5 0 1,0 1.0,0a0.5,0.5 0 1,0 -1.0,0M287.02,448.86a0.5,0.5 0 1,0 1.0,0a0.5,0.5 0 1,0 -1.0,0M286.33,449.55a0.5,0.5 0 1,0 1.0,0a0.5,0.5 0 1,0 -1.0,0M288.15,450.33a0.5,0.5 0 1,0 1.0,0a0.5,0.5 0 1,0 -1.0,0M293.42,449.70a0.5,0.5 0 1,0 1.0,0a0.5,0.5 0 1,0 -1.0,0M293.18,449.53a0.5,0.5 0 1,0 1.0,0a0.5,0.5 0 1,0 -1.0,0M300.00,448.37a0.5,0.5 0 1,0 1.0,0a0.5,0.5 0 1,0 -1.0,0M288.73,449.49a0.5,0.5 0 1,0 1.0,0a0.5,0.5 0 1,0 -1.0,0M291.27,449.71a0.5,0.5 0 1,0 1.0,0a0.5,0.5 0 1,0 -1.0,0M283.04,449.64a0.5,0.5 0 1,0 1.0,0a0.5,0.5 0 1,0 -1.0,0M289.13,448.22a0.5,0.5 0 1,0 1.0,0a0.5,0.5 0 1,0 -1.0,0M299.12,449.78a0.5,0.5 0 1,0 1.0,0a0.5,0.5 0 1,0 -1.0,0M311.16,448.73a0.5,0.5 0 1,0 1.0,0a0.5,0.5 0 1,0 -1.0,0M297.63,447.26a0.5,0.5 0 1,0 1.0,0a0.5,0.5 0 1,0 -1.0,0M296.26,449.45a0.5,0.5 0 1,0 1.0,0a0.5,0.5 0 1,0 -1.0,0M300.23,448.08a0.5,0.5 0 1,0 1.0,0a0.5,0.5 0 1,0 -1.0,0M294.49,447.22a0.5,0.5 0 1,0 1.0,0a0.5,0.5 0 1,0 -1.0,0M307.24,448.32a0.5,0.5 0 1,0 1.0,0a0.5,0.5 0 1,0 -1.0,0M294.66,448.59a0.5,0.5 0 1,0 1.0,0a0.5,0.5 0 1,0 -1.0,0M284.40,450.03a0.5,0.5 0 1,0 1.0,0a0.5,0.5 0 1,0 -1.0,0M308.43,449.33a0.5,0.5 0 1,0 1.0,0a0.5,0.5 0 1,0 -1.0,0M291.45,449.77a0.5,0.5 0 1,0 1.0,0a0.5,0.5 0 1,0 -1.0,0M311.94,449.31a0.5,0.5 0 1,0 1.0,0a0.5,0.5 0 1,0 -1.0,0M312.97,448.46a0.5,0.5 0 1,0 1.0,0a0.5,0.5 0 1,0 -1.0,0" fill="#000" fill-opacity="0.7"/>
<path d="M712.66,504.01a0.66,0.66 0 1,0 1.32,0a0.66,0.66 0 1,0 -1.32,0M711.55,504.36a0.66,0.66 0 1,0 1.32,0a0.66,0.66 0 1,0 -1.32,0M709.88,504.82a0.66,0.66 0 1,0 1.32,0a0.66,0.66 0 1,0 -1.32,0M708.41,506.15a0.66,0.66 0 1,0 1.32,0a0.66,0.66 0 1,0 -1.32,0M706.51,505.99a0.66,0.66 0 1,0 1.32,0a0.66,0.66 0 1,0 -1.32,0M704.95,507.04a0.66,0.66 0 1,0 1.32,0a0.66,0.66 0 1,0 -1.32,0M703.29,507.49a0.66,0.66 0 1,0 1.32,0a0.66,0.66 0 1,0 -1.32,0M701.68,508.12a0.66,0.66 0 1,0 1.32,0a0.66,0.66 0 1,0 -1.32,0M700.20,509.00a0.66,0.66 0 1,0 1.32,0a0.66,0.66 0 1,0 -1.32,0M698.34,509.98a0.66,0.66 0 1,0 1.32,0a0.66,0.66 0 1,0 -1.32,0M696.99,511.14a0.66,0.66 0 1,0 1.32,0a0.66,0.66 0 1,0 -1.32,0M695.75,512.24a0.66,0.66 0 1,0 1.32,0a0.66,0.66 0 1,0 -1.32,0M697.38,514.71a0.66,0.66 0 1,0 1.32,0a0.66,0.66 0 1,0 -1.32,0M699.37,515.54a0.66,0.66 0 1,0 1.32,0a0.66,0.66 0 1,0 -1.32,0M701.67,516.09a0.66,0.66 0 1,0 1.32,0a0.66,0.66 0 1,0 -1.32,0M702.93,516.65a0.66,0.66 0 1,0 1.32,0a0.66,0.66 0 1,0 -1.32,0M704.34,517.41a0.66,0.66 0 1,0 1.32,0a0.66,0.66 0 1,0 -1.32,0M706.17,517.27a0.66,0.66 0 1,0 1.32,0a0.66,0.66 0 1,0 -1.32,0M708.48,516.54a0.66,0.66 0 1,0 1.32,0a0.66,0.66 0 1,0 -1.32,0M709.66,514.95a0.66,0.66 0 1,0 1.32,0a0.66,0.66 0 1,0 -1.32,0M710.45,513.97a0.66,0.66 0 1,0 1.32,0a0.66,0.66 0 1,0 -1.32,0M711.22,512.12a0.66,0.66 0 1,0 1.32,0a0.66,0.66 0 1,0 -1.32,0M714.95,501.65a0.66,0.66 0 1,0 1.32,0a0.66,0.66 0 1,0 -1.32,0M715.99,500.11a0.66,0.66 0 1,0 1.32,0a0.66,0.66 0 1,0 -1.32,0M716.95,499.43a0.66,0.66 0 1,0 1.32,0a0.66,0.66 0 1,0 -1.32,0M717.48,498.15a0.66,0.66 0 1,0 1.32,0a0.66,0.66 0 1,0 -1.32,0M718.45,497.10a0.66,0.66 0 1,0 1.32,0a0.66,0.66 0 1,0 -1.32,0M719.70,495.80a0.66,0.66 0 1,0 1.32,0a0.66,0.66 0 1,0 -1.32,0M720.97,495.05a0.66,0.66 0 1,0 1.32,0a0.66,0.66 0 1,0 -1.32,0M722.37,493.90a0.66,0.66 0 1,0 1.32,0a0.66,0.66 0 1,0 -1.32,0M723.63,493.20a0.66,0.66 0 1,0 1.32,0a0.66,0.66 0 1,0 -1.32,0M724.47,491.86a0.66,0.66 0 1,0 1.32,0a0.66,0.66 0 1,0 -1.32,0M725.91,491.14a0.66,0.66 0 1,0 1.32,0a0.66,0.66 0 1,0 -1.32,0M727.32,490.87a0.66,0.66 0 1,0 1.32,0a0.66,0.66 0 1,0 -1.32,0M729.01,489.58a0.66,0.66 0 1,0 1.32,0a0.66,0.66 0 1,0 -1.32,0M730.12,488.38a0.66,0.66 0 1,0 1.32,0a0.66,0.66 0 1,0 -1.32,0M731.76,488.27a0.66,0.66 0 1,0 1.32,0a0.66,0.66 0 1,0 -1.32,0M733.36,487.14a0.66,0.66 0 1,0 1.32,0a0.66,0.66 0 1,0 -1.32,0M734.65,486.35a0.66,0.66 0 1,0 1.32,0a0.66,0.66 0 1,0 -1.32,0M736.31,485.74a0.66,0.66 0 1,0 1.32,0a0.66,0.66 0 1,0 -1.32,0M737.66,485.16a0.66,0.66 0 1,0 1.32,0a0.66,0.66 0 1,0 -1.32,0M738.58,483.90a0.66,0.66 0 1,0 1.32,0a0.66,0.66 0 1,0 -1.32,0M740.17,483.18a0.66,0.66 0 1,0 1.32,0a0.66,0.66 0 1,0 -1.32,0M740.95,482.33a0.66,0.66 0 1,0 1.32,0a0.66,0.66 0 1,0 -1.32,0M742.46,481.95a0.66,0.66 0 1,0 1.32,0a0.66,0.66 0 1,0 -1.32,0M744.12,481.05a0.66,0.66 0 1,0 1.32,0a0.66,0.66 0 1,0 -1.32,0M745.82,480.18a0.66,0.66 0 1,0 1.32,0a0.66,0.66 0 1,0 -1.32,0M747.07,479.60a0.66,0.66 0 1,0 1.32,0a0.66,0.66 0 1,0 -1.32,0M748.13,478.70a0.66,0.66 0 1,0 1.32,0a0.66,0.66 0 1,0 -1.32,0M749.85,477.84a0.66,0.66 0 1,0 1.32,0a0.66,0.66 0 1,0 -1.32,0M750.49,477.12a0.66,0.66 0 1,0 1.32,0a0.66,0.66 0 1,0 -1.32,0M752.63,476.20a0.66,0.66 0 1,0 1.32,0a0.66,0.66 0 1,0 -1.32,0M753.90,476.14a0.66,0.66 0 1,0 1.32,0a0.66,0.66 0 1,0 -1.32,0M755.70,475.24a0.66,0.66 0 1,0 1.32,0a0.66,0.66 0 1,0 -1.32,0M757.50,474.34a0.66,0.66 0 1,0 1.32,0a0.66,0.66 0 1,0 -1.32,0M758.24,473.49a0.66,0.66 0 1,0 1.32,0a0.66,0.66 0 1,0 -1.32,0M759.80,473.85a0.66,0.66 0 1,0 1.32,0a0.66,0.66 0 1,0 -1.32,0M761.05,473.20a0.66,0.66 0 1,0 1.32,0a0.66,0.66 0 1,0 -1.32,0M762.69,473.02a0.66,0.66 0 1,0 1.32,0a0.66,0.66 0 1,0 -1.32,0" fill="#000" fill-opacity="1.0"/>
<path d="M769.90,471.50a0.6,0.6 0 1,0 1.2,0a0.6,0.6 0 1,0 -1.2,0M766.90,471.80a0.6,0.6 0 1,0 1.2,0a0.6,0.6 0 1,0 -1.2,0M775.90,472.50a0.6,0.6 0 1,0 1.2,0a0.6,0.6 0 1,0 -1.2,0M779.40,476.00a0.6,0.6 0 1,0 1.2,0a0.6,0.6 0 1,0 -1.2,0M779.80,480.80a0.6,0.6 0 1,0 1.2,0a0.6,0.6 0 1,0 -1.2,0M778.80,484.90a0.6,0.6 0 1,0 1.2,0a0.6,0.6 0 1,0 -1.2,0M756.90,478.40a0.6,0.6 0 1,0 1.2,0a0.6,0.6 0 1,0 -1.2,0M765.20,474.80a0.6,0.6 0 1,0 1.2,0a0.6,0.6 0 1,0 -1.2,0M768.70,479.00a0.6,0.6 0 1,0 1.2,0a0.6,0.6 0 1,0 -1.2,0M772.30,482.00a0.6,0.6 0 1,0 1.2,0a0.6,0.6 0 1,0 -1.2,0M772.90,484.90a0.6,0.6 0 1,0 1.2,0a0.6,0.6 0 1,0 -1.2,0M771.70,490.50a0.6,0.6 0 1,0 1.2,0a0.6,0.6 0 1,0 -1.2,0M766.40,495.30a0.6,0.6 0 1,0 1.2,0a0.6,0.6 0 1,0 -1.2,0M761.00,493.50a0.6,0.6 0 1,0 1.2,0a0.6,0.6 0 1,0 -1.2,0M756.30,501.20a0.6,0.6 0 1,0 1.2,0a0.6,0.6 0 1,0 -1.2,0M752.70,501.60a0.6,0.6 0 1,0 1.2,0a0.6,0.6 0 1,0 -1.2,0M747.00,495.00a0.6,0.6 0 1,0 1.2,0a0.6,0.6 0 1,0 -1.2,0M745.20,504.20a0.6,0.6 0 1,0 1.2,0a0.6,0.6 0 1,0 -1.2,0M736.40,495.30a0.6,0.6 0 1,0 1.2,0a0.6,0.6 0 1,0 -1.2,0M728.40,496.00a0.6,0.6 0 1,0 1.2,0a0.6,0.6 0 1,0 -1.2,0M726.00,500.40a0.6,0.6 0 1,0 1.2,0a0.6,0.6 0 1,0 -1.2,0M727.40,496.50a0.6,0.6 0 1,0 1.2,0a0.6,0.6 0 1,0 -1.2,0" fill="#000" fill-opacity="0.85"/>
<path d="M720.17,503.78a0.6,0.6 0 1,0 1.2,0a0.6,0.6 0 1,0 -1.2,0M719.45,511.07a0.6,0.6 0 1,0 1.2,0a0.6,0.6 0 1,0 -1.2,0M714.56,509.88a0.6,0.6 0 1,0 1.2,0a0.6,0.6 0 1,0 -1.2,0M719.26,510.48a0.6,0.6 0 1,0 1.2,0a0.6,0.6 0 1,0 -1.2,0M721.69,504.58a0.6,0.6 0 1,0 1.2,0a0.6,0.6 0 1,0 -1.2,0M724.12,506.88a0.6,0.6 0 1,0 1.2,0a0.6,0.6 0 1,0 -1.2,0M713.21,502.53a0.6,0.6 0 1,0 1.2,0a0.6,0.6 0 1,0 -1.2,0M719.05,506.56a0.6,0.6 0 1,0 1.2,0a0.6,0.6 0 1,0 -1.2,0M716.67,503.77a0.6,0.6 0 1,0 1.2,0a0.6,0.6 0 1,0 -1.2,0M717.20,505.34a0.6,0.6 0 1,0 1.2,0a0.6,0.6 0 1,0 -1.2,0M723.40,502.52a0.6,0.6 0 1,0 1.2,0a0.6,0.6 0 1,0 -1.2,0M722.28,510.05a0.6,0.6 0 1,0 1.2,0a0.6,0.6 0 1,0 -1.2,0M714.40,510.84a0.6,0.6 0 1,0 1.2,0a0.6,0.6 0 1,0 -1.2,0M721.81,510.61a0.6,0.6 0 1,0 1.2,0a0.6,0.6 0 1,0 -1.2,0M716.52,505.85a0.6,0.6 0 1,0 1.2,0a0.6,0.6 0 1,0 -1.2,0M717.81,511.49a0.6,0.6 0 1,0 1.2,0a0.6,0.6 0 1,0 -1.2,0M720.26,505.75a0.6,0.6 0 1,0 1.2,0a0.6,0.6 0 1,0 -1.2,0M718.25,504.98a0.6,0.6 0 1,0 1.2,0a0.6,0.6 0 1,0 -1.2,0M713.50,503.42a0.6,0.6 0 1,0 1.2,0a0.6,0.6 0 1,0 -1.2,0M723.33,505.07a0.6,0.6 0 1,0 1.2,0a0.6,0.6 0 1,0 -1.2,0M724.59,504.74a0.6,0.6 0 1,0 1.2,0a0.6,0.6 0 1,0 -1.2,0M716.22,507.10a0.6,0.6 0 1,0 1.2,0a0.6,0.6 0 1,0 -1.2,0M715.27,505.86a0.6,0.6 0 1,0 1.2,0a0.6,0.6 0 1,0 -1.2,0M724.85,510.46a0.6,0.6 0 1,0 1.2,0a0.6,0.6 0 1,0 -1.2,0M723.05,508.18a0.6,0.6 0 1,0 1.2,0a0.6,0.6 0 1,0 -1.2,0M724.32,510.97a0.6,0.6 0 1,0 1.2,0a0.6,0.6 0 1,0 -1.2,0M719.77,508.98a0.6,0.6 0 1,0 1.2,0a0.6,0.6 0 1,0 -1.2,0M713.52,509.09a0.6,0.6 0 1,0 1.2,0a0.6,0.6 0 1,0 -1.2,0M718.54,509.27a0.6,0.6 0 1,0 1.2,0a0.6,0.6 0 1,0 -1.2,0M720.96,505.08a0.6,0.6 0 1,0 1.2,0a0.6,0.6 0 1,0 -1.2,0M713.51,510.84a0.6,0.6 0 1,0 1.2,0a0.6,0.6 0 1,0 -1.2,0M714.49,506.75a0.6,0.6 0 1,0 1.2,0a0.6,0.6 0 1,0 -1.2,0M717.20,505.18a0.6,0.6 0 1,0 1.2,0a0.6,0.6 0 1,0 -1.2,0M722.14,511.29a0.6,0.6 0 1,0 1.2,0a0.6,0.6 0 1,0 -1.2,0M716.15,508.40a0.6,0.6 0 1,0 1.2,0a0.6,0.6 0 1,0 -1.2,0M716.66,507.52a0.6,0.6 0 1,0 1.2,0a0.6,0.6 0 1,0 -1.2,0M717.83,504.01a0.6,0.6 0 1,0 1.2,0a0.6,0.6 0 1,0 -1.2,0M714.92,504.37a0.6,0.6 0 1,0 1.2,0a0.6,0.6 0 1,0 -1.2,0M724.22,506.97a0.6,0.6 0 1,0 1.2,0a0.6,0.6 0 1,0 -1.2,0M715.65,510.66a0.6,0.6 0 1,0 1.2,0a0.6,0.6 0 1,0 -1.2,0M718.21,504.66a0.6,0.6 0 1,0 1.2,0a0.6,0.6 0 1,0 -1.2,0M718.83,504.25a0.6,0.6 0 1,0 1.2,0a0.6,0.6 0 1,0 -1.2,0M720.41,504.46a0.6,0.6 0 1,0 1.2,0a0.6,0.6 0 1,0 -1.2,0M720.38,504.37a0.6,0.6 0 1,0 1.2,0a0.6,0.6 0 1,0 -1.2,0M720.10,503.96a0.6,0.6 0 1,0 1.2,0a0.6,0.6 0 1,0 -1.2,0M722.79,504.76a0.6,0.6 0 1,0 1.2,0a0.6,0.6 0 1,0 -1.2,0M715.65,503.47a0.6,0.6 0 1,0 1.2,0a0.6,0.6 0 1,0 -1.2,0M720.52,503.42a0.6,0.6 0 1,0 1.2,0a0.6,0.6 0 1,0 -1.2,0M718.46,503.89a0.6,0.6 0 1,0 1.2,0a0.6,0.6 0 1,0 -1.2,0M719.81,503.73a0.6,0.6 0 1,0 1.2,0a0.6,0.6 0 1,0 -1.2,0M726.64,504.50a0.6,0.6 0 1,0 1.2,0a0.6,0.6 0 1,0 -1.2,0M721.42,503.18a0.6,0.6 0 1,0 1.2,0a0.6,0.6 0 1,0 -1.2,0M714.55,504.10a0.6,0.6 0 1,0 1.2,0a0.6,0.6 0 1,0 -1.2,0M721.23,504.01a0.6,0.6 0 1,0 1.2,0a0.6,0.6 0 1,0 -1.2,0M721.93,502.60a0.6,0.6 0 1,0 1.2,0a0.6,0.6 0 1,0 -1.2,0M721.38,504.71a0.6,0.6 0 1,0 1.2,0a0.6,0.6 0 1,0 -1.2,0M713.94,504.15a0.6,0.6 0 1,0 1.2,0a0.6,0.6 0 1,0 -1.2,0M719.00,503.68a0.6,0.6 0 1,0 1.2,0a0.6,0.6 0 1,0 -1.2,0M712.73,503.21a0.6,0.6 0 1,0 1.2,0a0.6,0.6 0 1,0 -1.2,0M719.57,504.60a0.6,0.6 0 1,0 1.2,0a0.6,0.6 0 1,0 -1.2,0M718.90,505.00a0.6,0.6 0 1,0 1.2,0a0.6,0.6 0 1,0 -1.2,0M716.41,504.99a0.6,0.6 0 1,0 1.2,0a0.6,0.6 0 1,0 -1.2,0M712.57,504.00a0.6,0.6 0 1,0 1.2,0a0.6,0.6 0 1,0 -1.2,0M720.34,504.41a0.6,0.6 0 1,0 1.2,0a0.6,0.6 0 1,0 -1.2,0M721.91,503.41a0.6,0.6 0 1,0 1.2,0a0.6,0.6 0 1,0 -1.2,0M712.39,503.85a0.6,0.6 0 1,0 1.2,0a0.6,0.6 0 1,0 -1.2,0M714.64,504.06a0.6,0.6 0 1,0 1.2,0a0.6,0.6 0 1,0 -1.2,0M715.60,503.84a0.6,0.6 0 1,0 1.2,0a0.6,0.6 0 1,0 -1.2,0M718.63,504.09a0.6,0.6 0 1,0 1.2,0a0.6,0.6 0 1,0 -1.2,0M716.76,504.76a0.6,0.6 0 1,0 1.2,0a0.6,0.6 0 1,0 -1.2,0M716.82,503.90a0.6,0.6 0 1,0 1.2,0a0.6,0.6 0 1,0 -1.2,0M720.38,503.99a0.6,0.6 0 1,0 1.2,0a0.6,0.6 0 1,0 -1.2,0M723.17,503.91a0.6,0.6 0 1,0 1.2,0a0.6,0.6 0 1,0 -1.2,0M717.51,504.66a0.6,0.6 0 1,0 1.2,0a0.6,0.6 0 1,0 -1.2,0M720.46,503.48a0.6,0.6 0 1,0 1.2,0a0.6,0.6 0 1,0 -1.2,0M717.42,504.13a0.6,0.6 0 1,0 1.2,0a0.6,0.6 0 1,0 -1.2,0M722.91,504.51a0.6,0.6 0 1,0 1.2,0a0.6,0.6 0 1,0 -1.2,0M719.07,502.53a0.6,0.6 0 1,0 1.2,0a0.6,0.6 0 1,0 -1.2,0M720.75,503.23a0.6,0.6 0 1,0 1.2,0a0.6,0.6 0 1,0 -1.2,0M713.99,503.57a0.6,0.6 0 1,0 1.2,0a0.6,0.6 0 1,0 -1.2,0M719.24,504.03a0.6,0.6 0 1,0 1.2,0a0.6,0.6 0 1,0 -1.2,0M726.53,503.86a0.6,0.6 0 1,0 1.2,0a0.6,0.6 0 1,0 -1.2,0M716.43,504.70a0.6,0.6 0 1,0 1.2,0a0.6,0.6 0 1,0 -1.2,0M719.38,503.71a0.6,0.6 0 1,0 1.2,0a0.6,0.6 0 1,0 -1.2,0M716.11,503.96a0.6,0.6 0 1,0 1.2,0a0.6,0.6 0 1,0 -1.2,0M723.81,510.75a0.6,0.6 0 1,0 1.2,0a0.6,0.6 0 1,0 -1.2,0M719.65,510.92a0.6,0.6 0 1,0 1.2,0a0.6,0.6 0 1,0 -1.2,0M720.84,509.37a0.6,0.6 0 1,0 1.2,0a0.6,0.6 0 1,0 -1.2,0M722.07,510.70a0.6,0.6 0 1,0 1.2,0a0.6,0.6 0 1,0 -1.2,0M724.29,510.24a0.6,0.6 0 1,0 1.2,0a0.6,0.6 0 1,0 -1.2,0M717.68,510.81a0.6,0.6 0 1,0 1.2,0a0.6,0.6 0 1,0 -1.2,0M726.25,509.81a0.6,0.6 0 1,0 1.2,0a0.6,0.6 0 1,0 -1.2,0M724.34,510.36a0.6,0.6 0 1,0 1.2,0a0.6,0.6 0 1,0 -1.2,0M722.02,510.34a0.6,0.6 0 1,0 1.2,0a0.6,0.6 0 1,0 -1.2,0M718.48,511.08a0.6,0.6 0 1,0 1.2,0a0.6,0.6 0 1,0 -1.2,0M719.60,510.49a0.6,0.6 0 1,0 1.2,0a0.6,0.6 0 1,0 -1.2,0M721.91,509.40a0.6,0.6 0 1,0 1.2,0a0.6,0.6 0 1,0 -1.2,0M722.09,510.67a0.6,0.6 0 1,0 1.2,0a0.6,0.6 0 1,0 -1.2,0M719.99,509.92a0.6,0.6 0 1,0 1.2,0a0.6,0.6 0 1,0 -1.2,0M721.39,510.68a0.6,0.6 0 1,0 1.2,0a0.6,0.6 0 1,0 -1.2,0M720.19,510.53a0.6,0.6 0 1,0 1.2,0a0.6,0.6 0 1,0 -1.2,0M720.66,509.13a0.6,0.6 0 1,0 1.2,0a0.6,0.6 0 1,0 -1.2,0M723.45,511.15a0.6,0.6 0 1,0 1.2,0a0.6,0.6 0 1,0 -1.2,0M717.90,511.92a0.6,0.6 0 1,0 1.2,0a0.6,0.6 0 1,0 -1.2,0M720.32,510.09a0.6,0.6 0 1,0 1.2,0a0.6,0.6 0 1,0 -1.2,0M721.69,511.37a0.6,0.6 0 1,0 1.2,0a0.6,0.6 0 1,0 -1.2,0M718.91,511.31a0.6,0.6 0 1,0 1.2,0a0.6,0.6 0 1,0 -1.2,0M721.08,509.81a0.6,0.6 0 1,0 1.2,0a0.6,0.6 0 1,0 -1.2,0M721.94,510.09a0.6,0.6 0 1,0 1.2,0a0.6,0.6 0 1,0 -1.2,0M721.62,510.87a0.6,0.6 0 1,0 1.2,0a0.6,0.6 0 1,0 -1.2,0M720.43,509.26a0.6,0.6 0 1,0 1.2,0a0.6,0.6 0 1,0 -1.2,0M725.01,511.59a0.6,0.6 0 1,0 1.2,0a0.6,0.6 0 1,0 -1.2,0M724.56,510.47a0.6,0.6 0 1,0 1.2,0a0.6,0.6 0 1,0 -1.2,0M722.48,510.87a0.6,0.6 0 1,0 1.2,0a0.6,0.6 0 1,0 -1.2,0M716.55,510.10a0.6,0.6 0 1,0 1.2,0a0.6,0.6 0 1,0 -1.2,0" fill="#000" fill-opacity="0.95"/>
</svg></body></html>
